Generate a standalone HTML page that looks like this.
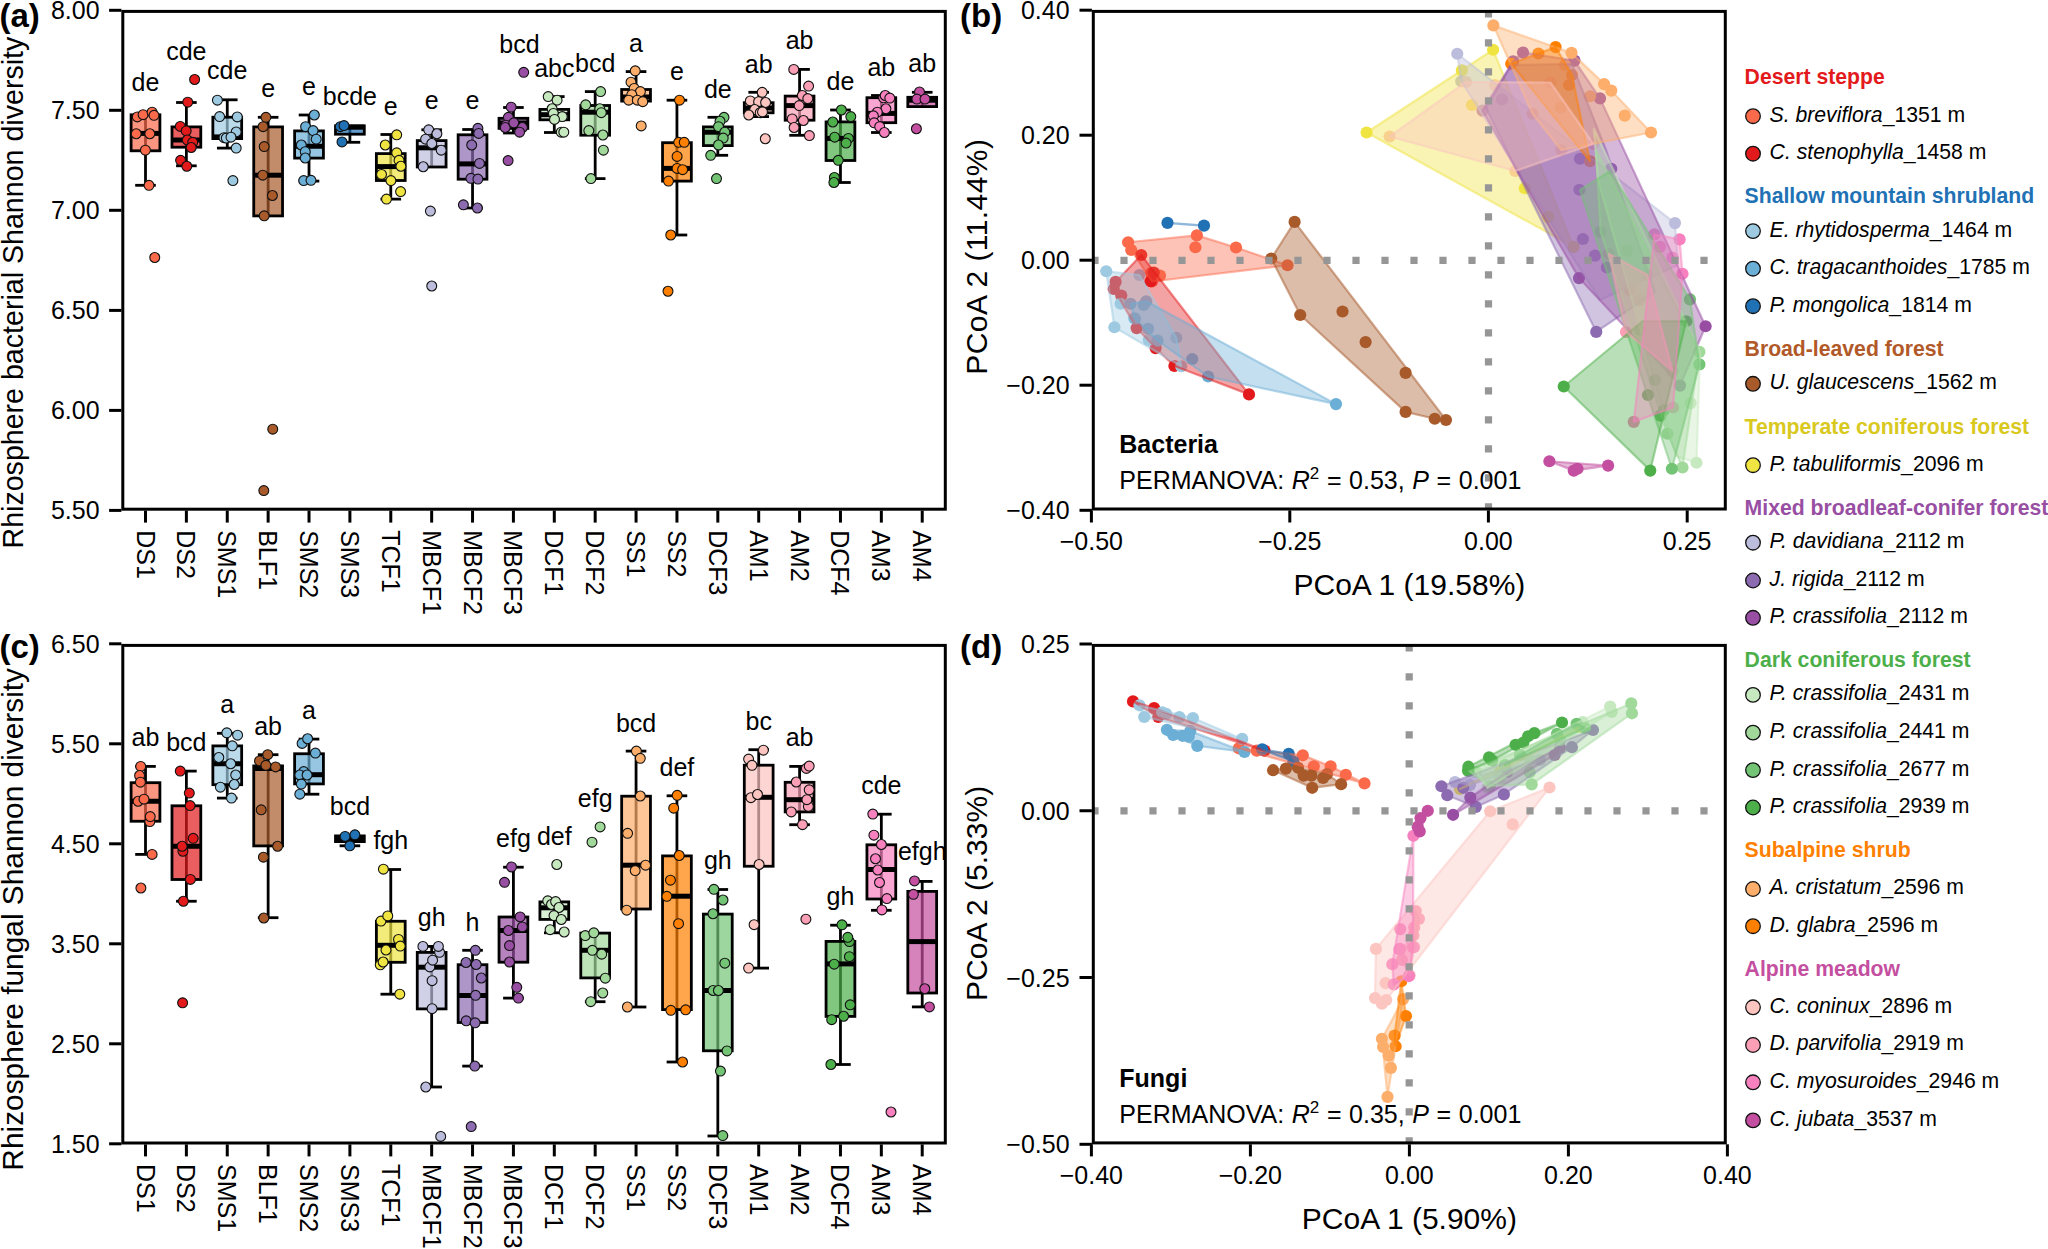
<!DOCTYPE html>
<html lang="en"><head><meta charset="utf-8"><title>Rhizosphere microbial diversity along an elevation gradient</title>
<style>html,body{margin:0;padding:0;background:#fff}body{width:2048px;height:1249px;overflow:hidden}svg{display:block}text{font-family:'Liberation Sans', Arial, Helvetica, sans-serif;fill:#000}</style>
</head><body>
<svg width="2048" height="1249" viewBox="0 0 2048 1249">
<rect width="2048" height="1249" fill="#fff"/>
<path d="M145.5 114.8V185.3" stroke="#000" stroke-width="2.8" fill="none"/>
<path d="M135.2 185.3H155.8" stroke="#000" stroke-width="2.8" fill="none"/>
<rect x="131.1" y="114.8" width="28.8" height="36" fill="#fb6a4a" fill-opacity="0.7" stroke="#000" stroke-width="2.8"/>
<path d="M131.1 133.4H159.9" stroke="#000" stroke-width="5" fill="none"/>
<path d="M186.38 102.5V165.8" stroke="#000" stroke-width="2.8" fill="none"/>
<path d="M176.08 102.5H196.68" stroke="#000" stroke-width="2.8" fill="none"/>
<path d="M176.08 165.8H196.68" stroke="#000" stroke-width="2.8" fill="none"/>
<rect x="171.98" y="126.9" width="28.8" height="20.3" fill="#e31a1c" fill-opacity="0.7" stroke="#000" stroke-width="2.8"/>
<path d="M171.98 140H200.78" stroke="#000" stroke-width="5" fill="none"/>
<path d="M227.26 99.8V148.1" stroke="#000" stroke-width="2.8" fill="none"/>
<path d="M216.96 99.8H237.56" stroke="#000" stroke-width="2.8" fill="none"/>
<path d="M216.96 148.1H237.56" stroke="#000" stroke-width="2.8" fill="none"/>
<rect x="212.86" y="117.2" width="28.8" height="21.4" fill="#9ecae1" fill-opacity="0.7" stroke="#000" stroke-width="2.8"/>
<path d="M212.86 136.9H241.66" stroke="#000" stroke-width="5" fill="none"/>
<path d="M268.14 117.3V215.9" stroke="#000" stroke-width="2.8" fill="none"/>
<path d="M257.84 117.3H278.44" stroke="#000" stroke-width="2.8" fill="none"/>
<rect x="253.74" y="126.9" width="28.8" height="89" fill="#a85a2a" fill-opacity="0.7" stroke="#000" stroke-width="2.8"/>
<path d="M253.74 175.2H282.54" stroke="#000" stroke-width="5" fill="none"/>
<path d="M309.02 115V181.1" stroke="#000" stroke-width="2.8" fill="none"/>
<path d="M298.72 115H319.32" stroke="#000" stroke-width="2.8" fill="none"/>
<path d="M298.72 181.1H319.32" stroke="#000" stroke-width="2.8" fill="none"/>
<rect x="294.62" y="130.9" width="28.8" height="27.2" fill="#6baed6" fill-opacity="0.7" stroke="#000" stroke-width="2.8"/>
<path d="M294.62 146.25H323.42" stroke="#000" stroke-width="5" fill="none"/>
<path d="M349.9 125.8V142.3" stroke="#000" stroke-width="2.8" fill="none"/>
<path d="M339.6 142.3H360.2" stroke="#000" stroke-width="2.8" fill="none"/>
<rect x="335.5" y="125.8" width="28.8" height="8.4" fill="#2171b5" fill-opacity="0.7" stroke="#000" stroke-width="2.8"/>
<path d="M335.5 127.2H364.3" stroke="#000" stroke-width="5" fill="none"/>
<path d="M390.78 134.5V199.1" stroke="#000" stroke-width="2.8" fill="none"/>
<path d="M380.48 134.5H401.08" stroke="#000" stroke-width="2.8" fill="none"/>
<path d="M380.48 199.1H401.08" stroke="#000" stroke-width="2.8" fill="none"/>
<rect x="376.38" y="153.6" width="28.8" height="26.9" fill="#f0e442" fill-opacity="0.7" stroke="#000" stroke-width="2.8"/>
<path d="M376.38 166.6H405.18" stroke="#000" stroke-width="5" fill="none"/>
<path d="M431.66 129.8V167" stroke="#000" stroke-width="2.8" fill="none"/>
<path d="M421.36 129.8H441.96" stroke="#000" stroke-width="2.8" fill="none"/>
<rect x="417.26" y="140.6" width="28.8" height="26.4" fill="#bcbddc" fill-opacity="0.7" stroke="#000" stroke-width="2.8"/>
<path d="M417.26 147.8H446.06" stroke="#000" stroke-width="5" fill="none"/>
<path d="M472.54 129.5V208" stroke="#000" stroke-width="2.8" fill="none"/>
<path d="M462.24 129.5H482.84" stroke="#000" stroke-width="2.8" fill="none"/>
<path d="M462.24 208H482.84" stroke="#000" stroke-width="2.8" fill="none"/>
<rect x="458.14" y="134.8" width="28.8" height="44.4" fill="#8c6bb1" fill-opacity="0.7" stroke="#000" stroke-width="2.8"/>
<path d="M458.14 163.9H486.94" stroke="#000" stroke-width="5" fill="none"/>
<path d="M513.42 107.5V133" stroke="#000" stroke-width="2.8" fill="none"/>
<path d="M503.12 107.5H523.72" stroke="#000" stroke-width="2.8" fill="none"/>
<path d="M503.12 133H523.72" stroke="#000" stroke-width="2.8" fill="none"/>
<rect x="499.02" y="118.3" width="28.8" height="10.1" fill="#984ea3" fill-opacity="0.7" stroke="#000" stroke-width="2.8"/>
<path d="M499.02 123H527.82" stroke="#000" stroke-width="5" fill="none"/>
<path d="M554.3 96.6V132.5" stroke="#000" stroke-width="2.8" fill="none"/>
<path d="M544 96.6H564.6" stroke="#000" stroke-width="2.8" fill="none"/>
<path d="M544 132.5H564.6" stroke="#000" stroke-width="2.8" fill="none"/>
<rect x="539.9" y="109.4" width="28.8" height="10.4" fill="#c7e9c0" fill-opacity="0.7" stroke="#000" stroke-width="2.8"/>
<path d="M539.9 114.7H568.7" stroke="#000" stroke-width="5" fill="none"/>
<path d="M595.18 91.6V178.6" stroke="#000" stroke-width="2.8" fill="none"/>
<path d="M584.88 91.6H605.48" stroke="#000" stroke-width="2.8" fill="none"/>
<path d="M584.88 178.6H605.48" stroke="#000" stroke-width="2.8" fill="none"/>
<rect x="580.78" y="105.5" width="28.8" height="29.7" fill="#a1d99b" fill-opacity="0.7" stroke="#000" stroke-width="2.8"/>
<path d="M580.78 112.2H609.58" stroke="#000" stroke-width="5" fill="none"/>
<path d="M636.06 71.6V101.1" stroke="#000" stroke-width="2.8" fill="none"/>
<path d="M625.76 71.6H646.36" stroke="#000" stroke-width="2.8" fill="none"/>
<rect x="621.66" y="89.5" width="28.8" height="11.6" fill="#fdae6b" fill-opacity="0.7" stroke="#000" stroke-width="2.8"/>
<path d="M621.66 97H650.46" stroke="#000" stroke-width="5" fill="none"/>
<path d="M676.94 100.2V235" stroke="#000" stroke-width="2.8" fill="none"/>
<path d="M666.64 100.2H687.24" stroke="#000" stroke-width="2.8" fill="none"/>
<path d="M666.64 235H687.24" stroke="#000" stroke-width="2.8" fill="none"/>
<rect x="662.54" y="142.7" width="28.8" height="38.4" fill="#ff7f00" fill-opacity="0.7" stroke="#000" stroke-width="2.8"/>
<path d="M662.54 168.4H691.34" stroke="#000" stroke-width="5" fill="none"/>
<path d="M717.82 117.3V155.3" stroke="#000" stroke-width="2.8" fill="none"/>
<path d="M707.52 117.3H728.12" stroke="#000" stroke-width="2.8" fill="none"/>
<path d="M707.52 155.3H728.12" stroke="#000" stroke-width="2.8" fill="none"/>
<rect x="703.42" y="126.9" width="28.8" height="18.7" fill="#74c476" fill-opacity="0.7" stroke="#000" stroke-width="2.8"/>
<path d="M703.42 132.2H732.22" stroke="#000" stroke-width="5" fill="none"/>
<path d="M758.7 92.3V116.6" stroke="#000" stroke-width="2.8" fill="none"/>
<path d="M748.4 92.3H769" stroke="#000" stroke-width="2.8" fill="none"/>
<path d="M748.4 116.6H769" stroke="#000" stroke-width="2.8" fill="none"/>
<rect x="744.3" y="102.7" width="28.8" height="10.1" fill="#fcc5c0" fill-opacity="0.7" stroke="#000" stroke-width="2.8"/>
<path d="M744.3 108H773.1" stroke="#000" stroke-width="5" fill="none"/>
<path d="M799.58 69.4V135.3" stroke="#000" stroke-width="2.8" fill="none"/>
<path d="M789.28 69.4H809.88" stroke="#000" stroke-width="2.8" fill="none"/>
<path d="M789.28 135.3H809.88" stroke="#000" stroke-width="2.8" fill="none"/>
<rect x="785.18" y="96.1" width="28.8" height="24.1" fill="#fa9fb5" fill-opacity="0.7" stroke="#000" stroke-width="2.8"/>
<path d="M785.18 105.6H813.98" stroke="#000" stroke-width="5" fill="none"/>
<path d="M840.46 110V182.5" stroke="#000" stroke-width="2.8" fill="none"/>
<path d="M830.16 110H850.76" stroke="#000" stroke-width="2.8" fill="none"/>
<path d="M830.16 182.5H850.76" stroke="#000" stroke-width="2.8" fill="none"/>
<rect x="826.06" y="121.9" width="28.8" height="38.6" fill="#4daf4a" fill-opacity="0.7" stroke="#000" stroke-width="2.8"/>
<path d="M826.06 138.4H854.86" stroke="#000" stroke-width="5" fill="none"/>
<path d="M881.34 95.5V132.5" stroke="#000" stroke-width="2.8" fill="none"/>
<path d="M871.04 95.5H891.64" stroke="#000" stroke-width="2.8" fill="none"/>
<path d="M871.04 132.5H891.64" stroke="#000" stroke-width="2.8" fill="none"/>
<rect x="866.94" y="97.7" width="28.8" height="25" fill="#f781bf" fill-opacity="0.7" stroke="#000" stroke-width="2.8"/>
<path d="M866.94 113.4H895.74" stroke="#000" stroke-width="5" fill="none"/>
<path d="M922.22 92.3V106.6" stroke="#000" stroke-width="2.8" fill="none"/>
<path d="M911.92 92.3H932.52" stroke="#000" stroke-width="2.8" fill="none"/>
<rect x="907.82" y="97.3" width="28.8" height="9.3" fill="#c44fa0" fill-opacity="0.7" stroke="#000" stroke-width="2.8"/>
<path d="M907.82 100.2H936.62" stroke="#000" stroke-width="5" fill="none"/>
<g fill="#fb6a4a" stroke="#111" stroke-width="1.1">
<circle cx="137.3" cy="116.9" r="4.95"/>
<circle cx="143.1" cy="114.7" r="4.95"/>
<circle cx="152.1" cy="112.2" r="4.95"/>
<circle cx="154" cy="115.3" r="4.95"/>
<circle cx="136.2" cy="133.75" r="4.95"/>
<circle cx="149.8" cy="133.75" r="4.95"/>
<circle cx="145.4" cy="150.2" r="4.95"/>
<circle cx="149" cy="185.3" r="4.95"/>
<circle cx="154.75" cy="257.5" r="4.95"/>
</g>
<g fill="#e31a1c" stroke="#111" stroke-width="1.1">
<circle cx="194.6" cy="79.5" r="4.95"/>
<circle cx="187.75" cy="102.2" r="4.95"/>
<circle cx="180.25" cy="126.4" r="4.95"/>
<circle cx="186.2" cy="130.9" r="4.95"/>
<circle cx="187.3" cy="140" r="4.95"/>
<circle cx="192.75" cy="142.3" r="4.95"/>
<circle cx="191.2" cy="147.5" r="4.95"/>
<circle cx="180.6" cy="160.3" r="4.95"/>
<circle cx="186.8" cy="166.25" r="4.95"/>
</g>
<g fill="#9ecae1" stroke="#111" stroke-width="1.1">
<circle cx="217.4" cy="100.2" r="4.95"/>
<circle cx="219.6" cy="116.6" r="4.95"/>
<circle cx="237.3" cy="116.9" r="4.95"/>
<circle cx="236.2" cy="131.9" r="4.95"/>
<circle cx="224" cy="137.7" r="4.95"/>
<circle cx="226.3" cy="138.1" r="4.95"/>
<circle cx="231" cy="137.2" r="4.95"/>
<circle cx="236.2" cy="148.1" r="4.95"/>
<circle cx="232.9" cy="180.6" r="4.95"/>
</g>
<g fill="#a85a2a" stroke="#111" stroke-width="1.1">
<circle cx="265.9" cy="117.3" r="4.95"/>
<circle cx="263.1" cy="126.7" r="4.95"/>
<circle cx="264.2" cy="146.6" r="4.95"/>
<circle cx="262.75" cy="175.2" r="4.95"/>
<circle cx="272.4" cy="195.5" r="4.95"/>
<circle cx="264.2" cy="215.8" r="4.95"/>
<circle cx="272.75" cy="429.2" r="4.95"/>
<circle cx="263.8" cy="490.6" r="4.95"/>
</g>
<g fill="#6baed6" stroke="#111" stroke-width="1.1">
<circle cx="314.3" cy="115" r="4.95"/>
<circle cx="305.6" cy="126.7" r="4.95"/>
<circle cx="313.1" cy="130.6" r="4.95"/>
<circle cx="316.2" cy="139.2" r="4.95"/>
<circle cx="301.3" cy="145" r="4.95"/>
<circle cx="305.25" cy="151.7" r="4.95"/>
<circle cx="305.25" cy="158" r="4.95"/>
<circle cx="303.7" cy="180.6" r="4.95"/>
<circle cx="311" cy="180.3" r="4.95"/>
</g>
<g fill="#2171b5" stroke="#111" stroke-width="1.1">
<circle cx="340.4" cy="126.7" r="4.95"/>
<circle cx="344" cy="125.6" r="4.95"/>
<circle cx="342" cy="141.9" r="4.95"/>
</g>
<g fill="#f0e442" stroke="#111" stroke-width="1.1">
<circle cx="396.7" cy="134.8" r="4.95"/>
<circle cx="385.25" cy="145" r="4.95"/>
<circle cx="396.7" cy="152.8" r="4.95"/>
<circle cx="399" cy="160.3" r="4.95"/>
<circle cx="400.9" cy="166.25" r="4.95"/>
<circle cx="381.5" cy="174.4" r="4.95"/>
<circle cx="390.9" cy="180.6" r="4.95"/>
<circle cx="400.6" cy="191.6" r="4.95"/>
<circle cx="386.5" cy="199.1" r="4.95"/>
</g>
<g fill="#bcbddc" stroke="#111" stroke-width="1.1">
<circle cx="428.7" cy="129.8" r="4.95"/>
<circle cx="436.9" cy="133.75" r="4.95"/>
<circle cx="425.6" cy="139.2" r="4.95"/>
<circle cx="431.8" cy="143.5" r="4.95"/>
<circle cx="441.2" cy="150.2" r="4.95"/>
<circle cx="423.2" cy="166.75" r="4.95"/>
<circle cx="430.4" cy="211.1" r="4.95"/>
<circle cx="431.75" cy="286" r="4.95"/>
</g>
<g fill="#8c6bb1" stroke="#111" stroke-width="1.1">
<circle cx="477.9" cy="128.3" r="4.95"/>
<circle cx="478.7" cy="133.4" r="4.95"/>
<circle cx="471.7" cy="145" r="4.95"/>
<circle cx="479.5" cy="163.4" r="4.95"/>
<circle cx="470.9" cy="178.3" r="4.95"/>
<circle cx="477.9" cy="179.1" r="4.95"/>
<circle cx="463.4" cy="204.8" r="4.95"/>
<circle cx="477.4" cy="208" r="4.95"/>
</g>
<g fill="#984ea3" stroke="#111" stroke-width="1.1">
<circle cx="523.7" cy="72.3" r="4.95"/>
<circle cx="511.2" cy="107.2" r="4.95"/>
<circle cx="508.4" cy="117.3" r="4.95"/>
<circle cx="506" cy="125.2" r="4.95"/>
<circle cx="505.25" cy="127.5" r="4.95"/>
<circle cx="513.8" cy="122.8" r="4.95"/>
<circle cx="522.4" cy="127.5" r="4.95"/>
<circle cx="519.6" cy="132.2" r="4.95"/>
<circle cx="508.1" cy="160.6" r="4.95"/>
</g>
<g fill="#c7e9c0" stroke="#111" stroke-width="1.1">
<circle cx="548.2" cy="96.6" r="4.95"/>
<circle cx="557.1" cy="100.2" r="4.95"/>
<circle cx="552.1" cy="108.75" r="4.95"/>
<circle cx="553.4" cy="113.4" r="4.95"/>
<circle cx="562.3" cy="116.6" r="4.95"/>
<circle cx="554.5" cy="119.4" r="4.95"/>
<circle cx="561.2" cy="132.2" r="4.95"/>
<circle cx="563.8" cy="132.2" r="4.95"/>
</g>
<g fill="#a1d99b" stroke="#111" stroke-width="1.1">
<circle cx="600.6" cy="91.6" r="4.95"/>
<circle cx="585.7" cy="104.8" r="4.95"/>
<circle cx="599.8" cy="108.75" r="4.95"/>
<circle cx="601.3" cy="112.7" r="4.95"/>
<circle cx="588.8" cy="130.6" r="4.95"/>
<circle cx="602.9" cy="135" r="4.95"/>
<circle cx="603.4" cy="150.2" r="4.95"/>
<circle cx="590.9" cy="178.6" r="4.95"/>
</g>
<g fill="#fdae6b" stroke="#111" stroke-width="1.1">
<circle cx="635.25" cy="70.8" r="4.95"/>
<circle cx="631" cy="82.2" r="4.95"/>
<circle cx="634.2" cy="88.4" r="4.95"/>
<circle cx="640.4" cy="91.6" r="4.95"/>
<circle cx="631.8" cy="94.7" r="4.95"/>
<circle cx="628.7" cy="100.2" r="4.95"/>
<circle cx="637.3" cy="100.2" r="4.95"/>
<circle cx="642.75" cy="101.7" r="4.95"/>
<circle cx="641.2" cy="125.9" r="4.95"/>
</g>
<g fill="#ff7f00" stroke="#111" stroke-width="1.1">
<circle cx="679.5" cy="100.2" r="4.95"/>
<circle cx="678.7" cy="142.3" r="4.95"/>
<circle cx="684.2" cy="142.3" r="4.95"/>
<circle cx="677.1" cy="156.4" r="4.95"/>
<circle cx="677.1" cy="168.4" r="4.95"/>
<circle cx="682.6" cy="169.7" r="4.95"/>
<circle cx="668.5" cy="181.1" r="4.95"/>
<circle cx="670.75" cy="235" r="4.95"/>
<circle cx="668" cy="291.25" r="4.95"/>
</g>
<g fill="#74c476" stroke="#111" stroke-width="1.1">
<circle cx="724" cy="117.3" r="4.95"/>
<circle cx="720" cy="121.25" r="4.95"/>
<circle cx="718.5" cy="126.7" r="4.95"/>
<circle cx="724.8" cy="132.2" r="4.95"/>
<circle cx="723.2" cy="138.1" r="4.95"/>
<circle cx="718.5" cy="145" r="4.95"/>
<circle cx="710.7" cy="155.3" r="4.95"/>
<circle cx="716.5" cy="178.6" r="4.95"/>
</g>
<g fill="#fcc5c0" stroke="#111" stroke-width="1.1">
<circle cx="762.2" cy="92.3" r="4.95"/>
<circle cx="750.3" cy="100.9" r="4.95"/>
<circle cx="758.6" cy="101.7" r="4.95"/>
<circle cx="765.6" cy="102.5" r="4.95"/>
<circle cx="754.7" cy="109.5" r="4.95"/>
<circle cx="760.2" cy="112.7" r="4.95"/>
<circle cx="762.5" cy="111.9" r="4.95"/>
<circle cx="748.75" cy="115" r="4.95"/>
<circle cx="765.3" cy="138.75" r="4.95"/>
</g>
<g fill="#fa9fb5" stroke="#111" stroke-width="1.1">
<circle cx="793.75" cy="69.4" r="4.95"/>
<circle cx="808.6" cy="86.1" r="4.95"/>
<circle cx="802.3" cy="95.5" r="4.95"/>
<circle cx="807.8" cy="98.6" r="4.95"/>
<circle cx="799.2" cy="105.6" r="4.95"/>
<circle cx="792.2" cy="118.9" r="4.95"/>
<circle cx="803.4" cy="120.5" r="4.95"/>
<circle cx="794.1" cy="127.5" r="4.95"/>
<circle cx="809.4" cy="135.6" r="4.95"/>
</g>
<g fill="#4daf4a" stroke="#111" stroke-width="1.1">
<circle cx="841.4" cy="110" r="4.95"/>
<circle cx="850.8" cy="116.6" r="4.95"/>
<circle cx="832.8" cy="122" r="4.95"/>
<circle cx="834.7" cy="137.2" r="4.95"/>
<circle cx="848.4" cy="138.4" r="4.95"/>
<circle cx="846.1" cy="143.1" r="4.95"/>
<circle cx="838.3" cy="160.3" r="4.95"/>
<circle cx="834.4" cy="177.5" r="4.95"/>
<circle cx="833.9" cy="182.5" r="4.95"/>
</g>
<g fill="#f781bf" stroke="#111" stroke-width="1.1">
<circle cx="883.6" cy="97.8" r="4.95"/>
<circle cx="885.2" cy="95.5" r="4.95"/>
<circle cx="889.8" cy="98.1" r="4.95"/>
<circle cx="885.9" cy="108.75" r="4.95"/>
<circle cx="877.3" cy="112.2" r="4.95"/>
<circle cx="873.4" cy="115.8" r="4.95"/>
<circle cx="874.2" cy="122.8" r="4.95"/>
<circle cx="879.7" cy="126.7" r="4.95"/>
<circle cx="884.4" cy="132.5" r="4.95"/>
</g>
<g fill="#c44fa0" stroke="#111" stroke-width="1.1">
<circle cx="919.5" cy="91.9" r="4.95"/>
<circle cx="916.9" cy="99.1" r="4.95"/>
<circle cx="925" cy="99.1" r="4.95"/>
<circle cx="916.4" cy="128.75" r="4.95"/>
</g>
<g font-size="25" text-anchor="middle">
<text x="145.5" y="91.2">de</text>
<text x="186.38" y="59.6">cde</text>
<text x="227.26" y="79.1">cde</text>
<text x="268.14" y="97.35">e</text>
<text x="309.02" y="94.6">e</text>
<text x="349.9" y="105.35">bcde</text>
<text x="390.78" y="114.6">e</text>
<text x="431.66" y="109.1">e</text>
<text x="472.54" y="109.1">e</text>
<text x="519.42" y="52.85">bcd</text>
<text x="554.3" y="76.6">abc</text>
<text x="595.18" y="72.1">bcd</text>
<text x="636.06" y="51.6">a</text>
<text x="676.94" y="80.35">e</text>
<text x="717.82" y="97.85">de</text>
<text x="758.7" y="72.85">ab</text>
<text x="799.58" y="48.6">ab</text>
<text x="840.46" y="89.6">de</text>
<text x="881.34" y="75.85">ab</text>
<text x="922.22" y="71.6">ab</text>
</g>
<rect x="122.8" y="11.4" width="822.5" height="497.8" fill="none" stroke="#000" stroke-width="3.0"/>
<path d="M109.1 10.3H121.4" stroke="#000" stroke-width="3"/>
<text x="99.6" y="19.3" font-size="25" text-anchor="end">8.00</text>
<path d="M109.1 110.3H121.4" stroke="#000" stroke-width="3"/>
<text x="99.6" y="119.3" font-size="25" text-anchor="end">7.50</text>
<path d="M109.1 210.3H121.4" stroke="#000" stroke-width="3"/>
<text x="99.6" y="219.3" font-size="25" text-anchor="end">7.00</text>
<path d="M109.1 310.4H121.4" stroke="#000" stroke-width="3"/>
<text x="99.6" y="319.4" font-size="25" text-anchor="end">6.50</text>
<path d="M109.1 410.4H121.4" stroke="#000" stroke-width="3"/>
<text x="99.6" y="419.4" font-size="25" text-anchor="end">6.00</text>
<path d="M109.1 510.4H121.4" stroke="#000" stroke-width="3"/>
<text x="99.6" y="519.4" font-size="25" text-anchor="end">5.50</text>
<path d="M145.5 510.6V522.6" stroke="#000" stroke-width="3"/>
<text transform="translate(136.5 530.2) rotate(90)" font-size="25">DS1</text>
<path d="M186.38 510.6V522.6" stroke="#000" stroke-width="3"/>
<text transform="translate(177.38 530.2) rotate(90)" font-size="25">DS2</text>
<path d="M227.26 510.6V522.6" stroke="#000" stroke-width="3"/>
<text transform="translate(218.26 530.2) rotate(90)" font-size="25">SMS1</text>
<path d="M268.14 510.6V522.6" stroke="#000" stroke-width="3"/>
<text transform="translate(259.14 530.2) rotate(90)" font-size="25">BLF1</text>
<path d="M309.02 510.6V522.6" stroke="#000" stroke-width="3"/>
<text transform="translate(300.02 530.2) rotate(90)" font-size="25">SMS2</text>
<path d="M349.9 510.6V522.6" stroke="#000" stroke-width="3"/>
<text transform="translate(340.9 530.2) rotate(90)" font-size="25">SMS3</text>
<path d="M390.78 510.6V522.6" stroke="#000" stroke-width="3"/>
<text transform="translate(381.78 530.2) rotate(90)" font-size="25">TCF1</text>
<path d="M431.66 510.6V522.6" stroke="#000" stroke-width="3"/>
<text transform="translate(422.66 530.2) rotate(90)" font-size="25">MBCF1</text>
<path d="M472.54 510.6V522.6" stroke="#000" stroke-width="3"/>
<text transform="translate(463.54 530.2) rotate(90)" font-size="25">MBCF2</text>
<path d="M513.42 510.6V522.6" stroke="#000" stroke-width="3"/>
<text transform="translate(504.42 530.2) rotate(90)" font-size="25">MBCF3</text>
<path d="M554.3 510.6V522.6" stroke="#000" stroke-width="3"/>
<text transform="translate(545.3 530.2) rotate(90)" font-size="25">DCF1</text>
<path d="M595.18 510.6V522.6" stroke="#000" stroke-width="3"/>
<text transform="translate(586.18 530.2) rotate(90)" font-size="25">DCF2</text>
<path d="M636.06 510.6V522.6" stroke="#000" stroke-width="3"/>
<text transform="translate(627.06 530.2) rotate(90)" font-size="25">SS1</text>
<path d="M676.94 510.6V522.6" stroke="#000" stroke-width="3"/>
<text transform="translate(667.94 530.2) rotate(90)" font-size="25">SS2</text>
<path d="M717.82 510.6V522.6" stroke="#000" stroke-width="3"/>
<text transform="translate(708.82 530.2) rotate(90)" font-size="25">DCF3</text>
<path d="M758.7 510.6V522.6" stroke="#000" stroke-width="3"/>
<text transform="translate(749.7 530.2) rotate(90)" font-size="25">AM1</text>
<path d="M799.58 510.6V522.6" stroke="#000" stroke-width="3"/>
<text transform="translate(790.58 530.2) rotate(90)" font-size="25">AM2</text>
<path d="M840.46 510.6V522.6" stroke="#000" stroke-width="3"/>
<text transform="translate(831.46 530.2) rotate(90)" font-size="25">DCF4</text>
<path d="M881.34 510.6V522.6" stroke="#000" stroke-width="3"/>
<text transform="translate(872.34 530.2) rotate(90)" font-size="25">AM3</text>
<path d="M922.22 510.6V522.6" stroke="#000" stroke-width="3"/>
<text transform="translate(913.22 530.2) rotate(90)" font-size="25">AM4</text>
<text transform="translate(23.0 292.6) rotate(-90)" font-size="28.6" text-anchor="middle">Rhizosphere bacterial Shannon diversity</text>
<text x="-0.5" y="27" font-size="33" font-weight="bold">(a)</text>
<path d="M145.5 766.4V854.4" stroke="#000" stroke-width="2.8" fill="none"/>
<path d="M135.2 766.4H155.8" stroke="#000" stroke-width="2.8" fill="none"/>
<path d="M135.2 854.4H155.8" stroke="#000" stroke-width="2.8" fill="none"/>
<rect x="131.1" y="782.7" width="28.8" height="38.55" fill="#fb6a4a" fill-opacity="0.7" stroke="#000" stroke-width="2.8"/>
<path d="M131.1 801.25H159.9" stroke="#000" stroke-width="5" fill="none"/>
<path d="M186.38 771.1V901.25" stroke="#000" stroke-width="2.8" fill="none"/>
<path d="M176.08 771.1H196.68" stroke="#000" stroke-width="2.8" fill="none"/>
<path d="M176.08 901.25H196.68" stroke="#000" stroke-width="2.8" fill="none"/>
<rect x="171.98" y="805.8" width="28.8" height="73.7" fill="#e31a1c" fill-opacity="0.7" stroke="#000" stroke-width="2.8"/>
<path d="M171.98 846.25H200.78" stroke="#000" stroke-width="5" fill="none"/>
<path d="M227.26 733.3V798.1" stroke="#000" stroke-width="2.8" fill="none"/>
<path d="M216.96 733.3H237.56" stroke="#000" stroke-width="2.8" fill="none"/>
<path d="M216.96 798.1H237.56" stroke="#000" stroke-width="2.8" fill="none"/>
<rect x="212.86" y="745.9" width="28.8" height="38.8" fill="#9ecae1" fill-opacity="0.7" stroke="#000" stroke-width="2.8"/>
<path d="M212.86 763.75H241.66" stroke="#000" stroke-width="5" fill="none"/>
<path d="M268.14 754.7V917.7" stroke="#000" stroke-width="2.8" fill="none"/>
<path d="M257.84 754.7H278.44" stroke="#000" stroke-width="2.8" fill="none"/>
<path d="M257.84 917.7H278.44" stroke="#000" stroke-width="2.8" fill="none"/>
<rect x="253.74" y="765.9" width="28.8" height="80" fill="#a85a2a" fill-opacity="0.7" stroke="#000" stroke-width="2.8"/>
<path d="M253.74 768.5H282.54" stroke="#000" stroke-width="5" fill="none"/>
<path d="M309.02 739.1V794.2" stroke="#000" stroke-width="2.8" fill="none"/>
<path d="M298.72 739.1H319.32" stroke="#000" stroke-width="2.8" fill="none"/>
<path d="M298.72 794.2H319.32" stroke="#000" stroke-width="2.8" fill="none"/>
<rect x="294.62" y="753.75" width="28.8" height="30.15" fill="#6baed6" fill-opacity="0.7" stroke="#000" stroke-width="2.8"/>
<path d="M294.62 774.7H323.42" stroke="#000" stroke-width="5" fill="none"/>
<path d="M349.9 835.9V845.8" stroke="#000" stroke-width="2.8" fill="none"/>
<path d="M339.6 845.8H360.2" stroke="#000" stroke-width="2.8" fill="none"/>
<rect x="335.5" y="835.9" width="28.8" height="5.7" fill="#2171b5" fill-opacity="0.7" stroke="#000" stroke-width="2.8"/>
<path d="M335.5 838.7H364.3" stroke="#000" stroke-width="5" fill="none"/>
<path d="M390.78 869.5V994.2" stroke="#000" stroke-width="2.8" fill="none"/>
<path d="M380.48 869.5H401.08" stroke="#000" stroke-width="2.8" fill="none"/>
<path d="M380.48 994.2H401.08" stroke="#000" stroke-width="2.8" fill="none"/>
<rect x="376.38" y="921.25" width="28.8" height="41.05" fill="#f0e442" fill-opacity="0.7" stroke="#000" stroke-width="2.8"/>
<path d="M376.38 945.3H405.18" stroke="#000" stroke-width="5" fill="none"/>
<path d="M431.66 946.4V1087" stroke="#000" stroke-width="2.8" fill="none"/>
<path d="M421.36 946.4H441.96" stroke="#000" stroke-width="2.8" fill="none"/>
<path d="M421.36 1087H441.96" stroke="#000" stroke-width="2.8" fill="none"/>
<rect x="417.26" y="952.4" width="28.8" height="56.5" fill="#bcbddc" fill-opacity="0.7" stroke="#000" stroke-width="2.8"/>
<path d="M417.26 967.2H446.06" stroke="#000" stroke-width="5" fill="none"/>
<path d="M472.54 950.3V1066.1" stroke="#000" stroke-width="2.8" fill="none"/>
<path d="M462.24 950.3H482.84" stroke="#000" stroke-width="2.8" fill="none"/>
<path d="M462.24 1066.1H482.84" stroke="#000" stroke-width="2.8" fill="none"/>
<rect x="458.14" y="964.7" width="28.8" height="57.8" fill="#8c6bb1" fill-opacity="0.7" stroke="#000" stroke-width="2.8"/>
<path d="M458.14 995.5H486.94" stroke="#000" stroke-width="5" fill="none"/>
<path d="M513.42 867.2V998.1" stroke="#000" stroke-width="2.8" fill="none"/>
<path d="M503.12 867.2H523.72" stroke="#000" stroke-width="2.8" fill="none"/>
<path d="M503.12 998.1H523.72" stroke="#000" stroke-width="2.8" fill="none"/>
<rect x="499.02" y="917" width="28.8" height="45.2" fill="#984ea3" fill-opacity="0.7" stroke="#000" stroke-width="2.8"/>
<path d="M499.02 930.5H527.82" stroke="#000" stroke-width="5" fill="none"/>
<path d="M554.3 901.9V932.8" stroke="#000" stroke-width="2.8" fill="none"/>
<path d="M544 932.8H564.6" stroke="#000" stroke-width="2.8" fill="none"/>
<rect x="539.9" y="901.9" width="28.8" height="17.5" fill="#c7e9c0" fill-opacity="0.7" stroke="#000" stroke-width="2.8"/>
<path d="M539.9 907.8H568.7" stroke="#000" stroke-width="5" fill="none"/>
<path d="M595.18 933.1V1001.7" stroke="#000" stroke-width="2.8" fill="none"/>
<path d="M584.88 1001.7H605.48" stroke="#000" stroke-width="2.8" fill="none"/>
<rect x="580.78" y="933.1" width="28.8" height="44.8" fill="#a1d99b" fill-opacity="0.7" stroke="#000" stroke-width="2.8"/>
<path d="M580.78 950.3H609.58" stroke="#000" stroke-width="5" fill="none"/>
<path d="M636.06 751.1V1007" stroke="#000" stroke-width="2.8" fill="none"/>
<path d="M625.76 751.1H646.36" stroke="#000" stroke-width="2.8" fill="none"/>
<path d="M625.76 1007H646.36" stroke="#000" stroke-width="2.8" fill="none"/>
<rect x="621.66" y="796.2" width="28.8" height="112.8" fill="#fdae6b" fill-opacity="0.7" stroke="#000" stroke-width="2.8"/>
<path d="M621.66 865.2H650.46" stroke="#000" stroke-width="5" fill="none"/>
<path d="M676.94 795.8V1062" stroke="#000" stroke-width="2.8" fill="none"/>
<path d="M666.64 795.8H687.24" stroke="#000" stroke-width="2.8" fill="none"/>
<path d="M666.64 1062H687.24" stroke="#000" stroke-width="2.8" fill="none"/>
<rect x="662.54" y="855.9" width="28.8" height="153.7" fill="#ff7f00" fill-opacity="0.7" stroke="#000" stroke-width="2.8"/>
<path d="M662.54 896.2H691.34" stroke="#000" stroke-width="5" fill="none"/>
<path d="M717.82 889.5V1136" stroke="#000" stroke-width="2.8" fill="none"/>
<path d="M707.52 889.5H728.12" stroke="#000" stroke-width="2.8" fill="none"/>
<path d="M707.52 1136H728.12" stroke="#000" stroke-width="2.8" fill="none"/>
<rect x="703.42" y="914.1" width="28.8" height="136.7" fill="#74c476" fill-opacity="0.7" stroke="#000" stroke-width="2.8"/>
<path d="M703.42 990.5H732.22" stroke="#000" stroke-width="5" fill="none"/>
<path d="M758.7 749.7V968.1" stroke="#000" stroke-width="2.8" fill="none"/>
<path d="M748.4 749.7H769" stroke="#000" stroke-width="2.8" fill="none"/>
<path d="M748.4 968.1H769" stroke="#000" stroke-width="2.8" fill="none"/>
<rect x="744.3" y="765.2" width="28.8" height="101.05" fill="#fcc5c0" fill-opacity="0.7" stroke="#000" stroke-width="2.8"/>
<path d="M744.3 797.3H773.1" stroke="#000" stroke-width="5" fill="none"/>
<path d="M799.58 766.4V824.7" stroke="#000" stroke-width="2.8" fill="none"/>
<path d="M789.28 766.4H809.88" stroke="#000" stroke-width="2.8" fill="none"/>
<path d="M789.28 824.7H809.88" stroke="#000" stroke-width="2.8" fill="none"/>
<rect x="785.18" y="782.3" width="28.8" height="29.6" fill="#fa9fb5" fill-opacity="0.7" stroke="#000" stroke-width="2.8"/>
<path d="M785.18 799.7H813.98" stroke="#000" stroke-width="5" fill="none"/>
<path d="M840.46 925.2V1064.5" stroke="#000" stroke-width="2.8" fill="none"/>
<path d="M830.16 925.2H850.76" stroke="#000" stroke-width="2.8" fill="none"/>
<path d="M830.16 1064.5H850.76" stroke="#000" stroke-width="2.8" fill="none"/>
<rect x="826.06" y="941.4" width="28.8" height="75" fill="#4daf4a" fill-opacity="0.7" stroke="#000" stroke-width="2.8"/>
<path d="M826.06 963.9H854.86" stroke="#000" stroke-width="5" fill="none"/>
<path d="M881.34 814.2V910.3" stroke="#000" stroke-width="2.8" fill="none"/>
<path d="M871.04 814.2H891.64" stroke="#000" stroke-width="2.8" fill="none"/>
<path d="M871.04 910.3H891.64" stroke="#000" stroke-width="2.8" fill="none"/>
<rect x="866.94" y="844.8" width="28.8" height="54.2" fill="#f781bf" fill-opacity="0.7" stroke="#000" stroke-width="2.8"/>
<path d="M866.94 869.5H895.74" stroke="#000" stroke-width="5" fill="none"/>
<path d="M922.22 881.4V1006.9" stroke="#000" stroke-width="2.8" fill="none"/>
<path d="M911.92 881.4H932.52" stroke="#000" stroke-width="2.8" fill="none"/>
<path d="M911.92 1006.9H932.52" stroke="#000" stroke-width="2.8" fill="none"/>
<rect x="907.82" y="891.4" width="28.8" height="101.6" fill="#c44fa0" fill-opacity="0.7" stroke="#000" stroke-width="2.8"/>
<path d="M907.82 941.6H936.62" stroke="#000" stroke-width="5" fill="none"/>
<g fill="#fb6a4a" stroke="#111" stroke-width="1.1">
<circle cx="140.7" cy="766.4" r="4.95"/>
<circle cx="139.6" cy="775.5" r="4.95"/>
<circle cx="140.4" cy="782.2" r="4.95"/>
<circle cx="138.1" cy="801.25" r="4.95"/>
<circle cx="144" cy="799.2" r="4.95"/>
<circle cx="149.8" cy="821.6" r="4.95"/>
<circle cx="150.25" cy="816.6" r="4.95"/>
<circle cx="152.1" cy="854.4" r="4.95"/>
<circle cx="140.9" cy="888" r="4.95"/>
</g>
<g fill="#e31a1c" stroke="#111" stroke-width="1.1">
<circle cx="180.25" cy="771.1" r="4.95"/>
<circle cx="189.3" cy="793.1" r="4.95"/>
<circle cx="190.1" cy="805.6" r="4.95"/>
<circle cx="193.2" cy="838.3" r="4.95"/>
<circle cx="182.9" cy="851.25" r="4.95"/>
<circle cx="182.1" cy="846.25" r="4.95"/>
<circle cx="190.4" cy="879.4" r="4.95"/>
<circle cx="183.4" cy="901.25" r="4.95"/>
<circle cx="182.6" cy="1002.8" r="4.95"/>
</g>
<g fill="#9ecae1" stroke="#111" stroke-width="1.1">
<circle cx="226.8" cy="732.8" r="4.95"/>
<circle cx="237.6" cy="735.2" r="4.95"/>
<circle cx="232.3" cy="745.8" r="4.95"/>
<circle cx="218.8" cy="757.5" r="4.95"/>
<circle cx="230.7" cy="763.75" r="4.95"/>
<circle cx="235.7" cy="775" r="4.95"/>
<circle cx="234.2" cy="784.5" r="4.95"/>
<circle cx="220.4" cy="787.2" r="4.95"/>
<circle cx="231.5" cy="798.1" r="4.95"/>
</g>
<g fill="#a85a2a" stroke="#111" stroke-width="1.1">
<circle cx="267.75" cy="754.7" r="4.95"/>
<circle cx="259.5" cy="760.9" r="4.95"/>
<circle cx="265.9" cy="765.3" r="4.95"/>
<circle cx="275.6" cy="766.9" r="4.95"/>
<circle cx="261.2" cy="809.8" r="4.95"/>
<circle cx="277.6" cy="846.25" r="4.95"/>
<circle cx="263.4" cy="857.2" r="4.95"/>
<circle cx="263.8" cy="918" r="4.95"/>
</g>
<g fill="#6baed6" stroke="#111" stroke-width="1.1">
<circle cx="302.1" cy="743.4" r="4.95"/>
<circle cx="307.6" cy="738.75" r="4.95"/>
<circle cx="315.4" cy="753.1" r="4.95"/>
<circle cx="303.7" cy="771.6" r="4.95"/>
<circle cx="299.8" cy="775" r="4.95"/>
<circle cx="307.1" cy="775" r="4.95"/>
<circle cx="301.3" cy="784.1" r="4.95"/>
<circle cx="299.8" cy="794.2" r="4.95"/>
</g>
<g fill="#2171b5" stroke="#111" stroke-width="1.1">
<circle cx="345.1" cy="836.4" r="4.95"/>
<circle cx="354.9" cy="834.8" r="4.95"/>
<circle cx="349.8" cy="845.8" r="4.95"/>
</g>
<g fill="#f0e442" stroke="#111" stroke-width="1.1">
<circle cx="383.4" cy="869.2" r="4.95"/>
<circle cx="381" cy="921.1" r="4.95"/>
<circle cx="387.75" cy="915.9" r="4.95"/>
<circle cx="398.5" cy="939.4" r="4.95"/>
<circle cx="400.25" cy="946.1" r="4.95"/>
<circle cx="386" cy="950" r="4.95"/>
<circle cx="380.25" cy="964.8" r="4.95"/>
<circle cx="383.1" cy="962" r="4.95"/>
<circle cx="399.8" cy="994.2" r="4.95"/>
</g>
<g fill="#bcbddc" stroke="#111" stroke-width="1.1">
<circle cx="422.9" cy="946.4" r="4.95"/>
<circle cx="439.6" cy="952.3" r="4.95"/>
<circle cx="438.4" cy="946.4" r="4.95"/>
<circle cx="429.8" cy="966.9" r="4.95"/>
<circle cx="432.6" cy="960.2" r="4.95"/>
<circle cx="432.1" cy="980.7" r="4.95"/>
<circle cx="432.1" cy="1008.7" r="4.95"/>
<circle cx="425.8" cy="1087" r="4.95"/>
<circle cx="440.7" cy="1136.4" r="4.95"/>
</g>
<g fill="#8c6bb1" stroke="#111" stroke-width="1.1">
<circle cx="475.4" cy="950.3" r="4.95"/>
<circle cx="466" cy="962.5" r="4.95"/>
<circle cx="476.2" cy="964.5" r="4.95"/>
<circle cx="481.3" cy="978" r="4.95"/>
<circle cx="475.6" cy="995.3" r="4.95"/>
<circle cx="466.2" cy="1020.8" r="4.95"/>
<circle cx="475.1" cy="1022.8" r="4.95"/>
<circle cx="474.8" cy="1066.1" r="4.95"/>
<circle cx="471.2" cy="1126.6" r="4.95"/>
</g>
<g fill="#984ea3" stroke="#111" stroke-width="1.1">
<circle cx="511.5" cy="866.9" r="4.95"/>
<circle cx="504.5" cy="882.3" r="4.95"/>
<circle cx="520.1" cy="916.9" r="4.95"/>
<circle cx="522.3" cy="926.9" r="4.95"/>
<circle cx="508.4" cy="930.5" r="4.95"/>
<circle cx="509.5" cy="945.6" r="4.95"/>
<circle cx="509.5" cy="962" r="4.95"/>
<circle cx="516.8" cy="987.3" r="4.95"/>
<circle cx="518.4" cy="998.1" r="4.95"/>
</g>
<g fill="#c7e9c0" stroke="#111" stroke-width="1.1">
<circle cx="547.75" cy="900.8" r="4.95"/>
<circle cx="551.5" cy="904.5" r="4.95"/>
<circle cx="555.6" cy="901.6" r="4.95"/>
<circle cx="559" cy="907.5" r="4.95"/>
<circle cx="554" cy="915.6" r="4.95"/>
<circle cx="561.3" cy="919.5" r="4.95"/>
<circle cx="550.1" cy="929.7" r="4.95"/>
<circle cx="564.2" cy="932" r="4.95"/>
<circle cx="556.8" cy="864.5" r="4.95"/>
</g>
<g fill="#a1d99b" stroke="#111" stroke-width="1.1">
<circle cx="585.25" cy="935.6" r="4.95"/>
<circle cx="593.8" cy="932.8" r="4.95"/>
<circle cx="592.3" cy="950.3" r="4.95"/>
<circle cx="601.7" cy="954.2" r="4.95"/>
<circle cx="605.3" cy="978.2" r="4.95"/>
<circle cx="602.75" cy="993" r="4.95"/>
<circle cx="590.7" cy="1001.7" r="4.95"/>
<circle cx="600.1" cy="826.9" r="4.95"/>
<circle cx="592" cy="842.2" r="4.95"/>
</g>
<g fill="#fdae6b" stroke="#111" stroke-width="1.1">
<circle cx="636.4" cy="751.1" r="4.95"/>
<circle cx="640.3" cy="758.3" r="4.95"/>
<circle cx="640.3" cy="796" r="4.95"/>
<circle cx="627.6" cy="833.3" r="4.95"/>
<circle cx="645.6" cy="865.2" r="4.95"/>
<circle cx="635.2" cy="870.6" r="4.95"/>
<circle cx="626.7" cy="910.2" r="4.95"/>
<circle cx="627.4" cy="1007" r="4.95"/>
</g>
<g fill="#ff7f00" stroke="#111" stroke-width="1.1">
<circle cx="677.2" cy="795.3" r="4.95"/>
<circle cx="673.7" cy="808.2" r="4.95"/>
<circle cx="679.2" cy="855.5" r="4.95"/>
<circle cx="670.45" cy="880.2" r="4.95"/>
<circle cx="666.85" cy="896.3" r="4.95"/>
<circle cx="678.55" cy="923.7" r="4.95"/>
<circle cx="670.85" cy="1010.3" r="4.95"/>
<circle cx="685.65" cy="1009.8" r="4.95"/>
<circle cx="682.55" cy="1062" r="4.95"/>
</g>
<g fill="#74c476" stroke="#111" stroke-width="1.1">
<circle cx="713.9" cy="889.3" r="4.95"/>
<circle cx="723" cy="900" r="4.95"/>
<circle cx="713" cy="913.75" r="4.95"/>
<circle cx="724.8" cy="963.2" r="4.95"/>
<circle cx="713.1" cy="990.5" r="4.95"/>
<circle cx="718.4" cy="990.5" r="4.95"/>
<circle cx="727" cy="1050.9" r="4.95"/>
<circle cx="720.45" cy="1071.1" r="4.95"/>
<circle cx="722.75" cy="1135.6" r="4.95"/>
</g>
<g fill="#fcc5c0" stroke="#111" stroke-width="1.1">
<circle cx="763.4" cy="750.2" r="4.95"/>
<circle cx="748.6" cy="759.1" r="4.95"/>
<circle cx="752" cy="765.3" r="4.95"/>
<circle cx="750.9" cy="797.7" r="4.95"/>
<circle cx="757.5" cy="794.5" r="4.95"/>
<circle cx="759.1" cy="864.5" r="4.95"/>
<circle cx="754.1" cy="924.7" r="4.95"/>
<circle cx="748.6" cy="968.1" r="4.95"/>
</g>
<g fill="#fa9fb5" stroke="#111" stroke-width="1.1">
<circle cx="806.4" cy="768.4" r="4.95"/>
<circle cx="809.2" cy="766.1" r="4.95"/>
<circle cx="796.25" cy="782" r="4.95"/>
<circle cx="809.2" cy="789.8" r="4.95"/>
<circle cx="808.4" cy="806.4" r="4.95"/>
<circle cx="806.9" cy="799.7" r="4.95"/>
<circle cx="791.25" cy="811.9" r="4.95"/>
<circle cx="802.5" cy="824.7" r="4.95"/>
<circle cx="805.9" cy="919.2" r="4.95"/>
</g>
<g fill="#4daf4a" stroke="#111" stroke-width="1.1">
<circle cx="842" cy="924.8" r="4.95"/>
<circle cx="849.4" cy="941.6" r="4.95"/>
<circle cx="847.8" cy="937.3" r="4.95"/>
<circle cx="849.4" cy="956.7" r="4.95"/>
<circle cx="834.2" cy="964.2" r="4.95"/>
<circle cx="850.2" cy="1004.8" r="4.95"/>
<circle cx="831.7" cy="1019.7" r="4.95"/>
<circle cx="843.6" cy="1016.25" r="4.95"/>
<circle cx="830.9" cy="1064.5" r="4.95"/>
</g>
<g fill="#f781bf" stroke="#111" stroke-width="1.1">
<circle cx="872.8" cy="814.1" r="4.95"/>
<circle cx="873.9" cy="835.2" r="4.95"/>
<circle cx="881.4" cy="844.5" r="4.95"/>
<circle cx="875.5" cy="858.75" r="4.95"/>
<circle cx="877.8" cy="870" r="4.95"/>
<circle cx="879.5" cy="882.5" r="4.95"/>
<circle cx="886.9" cy="898.6" r="4.95"/>
<circle cx="881.9" cy="909.9" r="4.95"/>
<circle cx="891" cy="1112" r="4.95"/>
</g>
<g fill="#c44fa0" stroke="#111" stroke-width="1.1">
<circle cx="914.5" cy="880.9" r="4.95"/>
<circle cx="913.4" cy="894.3" r="4.95"/>
<circle cx="924.8" cy="988.75" r="4.95"/>
<circle cx="929.4" cy="1006.9" r="4.95"/>
</g>
<g font-size="25" text-anchor="middle">
<text x="145.5" y="746.2">ab</text>
<text x="186.38" y="751.2">bcd</text>
<text x="227.26" y="713.3">a</text>
<text x="268.14" y="734.8">ab</text>
<text x="309.02" y="718.5">a</text>
<text x="349.9" y="815.3">bcd</text>
<text x="390.78" y="848.9">fgh</text>
<text x="431.66" y="926.4">gh</text>
<text x="472.54" y="931">h</text>
<text x="513.42" y="846.9">efg</text>
<text x="554.3" y="845">def</text>
<text x="595.18" y="807.05">efg</text>
<text x="636.06" y="732.4">bcd</text>
<text x="676.94" y="776.3">def</text>
<text x="717.82" y="868.6">gh</text>
<text x="758.7" y="730.2">bc</text>
<text x="799.58" y="745.8">ab</text>
<text x="840.46" y="905.2">gh</text>
<text x="881.34" y="793.9">cde</text>
<text x="922.22" y="860.3">efgh</text>
</g>
<rect x="122.8" y="645.4" width="822.5" height="497.6" fill="none" stroke="#000" stroke-width="3.0"/>
<path d="M109.1 643.8H121.4" stroke="#000" stroke-width="3"/>
<text x="99.6" y="652.8" font-size="25" text-anchor="end">6.50</text>
<path d="M109.1 743.8H121.4" stroke="#000" stroke-width="3"/>
<text x="99.6" y="752.8" font-size="25" text-anchor="end">5.50</text>
<path d="M109.1 843.8H121.4" stroke="#000" stroke-width="3"/>
<text x="99.6" y="852.8" font-size="25" text-anchor="end">4.50</text>
<path d="M109.1 943.8H121.4" stroke="#000" stroke-width="3"/>
<text x="99.6" y="952.8" font-size="25" text-anchor="end">3.50</text>
<path d="M109.1 1043.8H121.4" stroke="#000" stroke-width="3"/>
<text x="99.6" y="1052.8" font-size="25" text-anchor="end">2.50</text>
<path d="M109.1 1143.8H121.4" stroke="#000" stroke-width="3"/>
<text x="99.6" y="1152.8" font-size="25" text-anchor="end">1.50</text>
<path d="M145.5 1144.4V1156.4" stroke="#000" stroke-width="3"/>
<text transform="translate(136.5 1164) rotate(90)" font-size="25">DS1</text>
<path d="M186.38 1144.4V1156.4" stroke="#000" stroke-width="3"/>
<text transform="translate(177.38 1164) rotate(90)" font-size="25">DS2</text>
<path d="M227.26 1144.4V1156.4" stroke="#000" stroke-width="3"/>
<text transform="translate(218.26 1164) rotate(90)" font-size="25">SMS1</text>
<path d="M268.14 1144.4V1156.4" stroke="#000" stroke-width="3"/>
<text transform="translate(259.14 1164) rotate(90)" font-size="25">BLF1</text>
<path d="M309.02 1144.4V1156.4" stroke="#000" stroke-width="3"/>
<text transform="translate(300.02 1164) rotate(90)" font-size="25">SMS2</text>
<path d="M349.9 1144.4V1156.4" stroke="#000" stroke-width="3"/>
<text transform="translate(340.9 1164) rotate(90)" font-size="25">SMS3</text>
<path d="M390.78 1144.4V1156.4" stroke="#000" stroke-width="3"/>
<text transform="translate(381.78 1164) rotate(90)" font-size="25">TCF1</text>
<path d="M431.66 1144.4V1156.4" stroke="#000" stroke-width="3"/>
<text transform="translate(422.66 1164) rotate(90)" font-size="25">MBCF1</text>
<path d="M472.54 1144.4V1156.4" stroke="#000" stroke-width="3"/>
<text transform="translate(463.54 1164) rotate(90)" font-size="25">MBCF2</text>
<path d="M513.42 1144.4V1156.4" stroke="#000" stroke-width="3"/>
<text transform="translate(504.42 1164) rotate(90)" font-size="25">MBCF3</text>
<path d="M554.3 1144.4V1156.4" stroke="#000" stroke-width="3"/>
<text transform="translate(545.3 1164) rotate(90)" font-size="25">DCF1</text>
<path d="M595.18 1144.4V1156.4" stroke="#000" stroke-width="3"/>
<text transform="translate(586.18 1164) rotate(90)" font-size="25">DCF2</text>
<path d="M636.06 1144.4V1156.4" stroke="#000" stroke-width="3"/>
<text transform="translate(627.06 1164) rotate(90)" font-size="25">SS1</text>
<path d="M676.94 1144.4V1156.4" stroke="#000" stroke-width="3"/>
<text transform="translate(667.94 1164) rotate(90)" font-size="25">SS2</text>
<path d="M717.82 1144.4V1156.4" stroke="#000" stroke-width="3"/>
<text transform="translate(708.82 1164) rotate(90)" font-size="25">DCF3</text>
<path d="M758.7 1144.4V1156.4" stroke="#000" stroke-width="3"/>
<text transform="translate(749.7 1164) rotate(90)" font-size="25">AM1</text>
<path d="M799.58 1144.4V1156.4" stroke="#000" stroke-width="3"/>
<text transform="translate(790.58 1164) rotate(90)" font-size="25">AM2</text>
<path d="M840.46 1144.4V1156.4" stroke="#000" stroke-width="3"/>
<text transform="translate(831.46 1164) rotate(90)" font-size="25">DCF4</text>
<path d="M881.34 1144.4V1156.4" stroke="#000" stroke-width="3"/>
<text transform="translate(872.34 1164) rotate(90)" font-size="25">AM3</text>
<path d="M922.22 1144.4V1156.4" stroke="#000" stroke-width="3"/>
<text transform="translate(913.22 1164) rotate(90)" font-size="25">AM4</text>
<text transform="translate(23.0 919.3) rotate(-90)" font-size="29.85" text-anchor="middle">Rhizosphere fungal Shannon diversity</text>
<text x="-0.5" y="657.6" font-size="33" font-weight="bold">(c)</text>
<clipPath id="cb"><rect x="1093.3" y="11.4" width="632" height="497.6"/></clipPath>
<g clip-path="url(#cb)">
<g fill="#fb6a4a">
<circle cx="1128.1" cy="242.25" r="6.1"/>
<circle cx="1131.25" cy="250" r="6.1"/>
<circle cx="1196.9" cy="235.4" r="6.1"/>
<circle cx="1195.4" cy="247.25" r="6.1"/>
<circle cx="1236" cy="247.5" r="6.1"/>
<circle cx="1287.5" cy="265.25" r="6.1"/>
<circle cx="1160" cy="275.6" r="6.1"/>
<circle cx="1151.25" cy="273.1" r="6.1"/>
<circle cx="1152" cy="281.5" r="6.1"/>
</g>
<g fill="#e31a1c">
<circle cx="1141.25" cy="255" r="6.1"/>
<circle cx="1150.6" cy="281.25" r="6.1"/>
<circle cx="1153.75" cy="272.5" r="6.1"/>
<circle cx="1115.6" cy="281.9" r="6.1"/>
<circle cx="1113.75" cy="289" r="6.1"/>
<circle cx="1121.25" cy="295.6" r="6.1"/>
<circle cx="1136.6" cy="328.1" r="6.1"/>
<circle cx="1155.6" cy="348.1" r="6.1"/>
<circle cx="1174.4" cy="366" r="6.1"/>
<circle cx="1249" cy="394.4" r="6.1"/>
</g>
<g fill="#9ecae1">
<circle cx="1106.25" cy="271.25" r="6.1"/>
<circle cx="1139.4" cy="275" r="6.1"/>
<circle cx="1114.4" cy="327.25" r="6.1"/>
<circle cx="1120.6" cy="303.75" r="6.1"/>
<circle cx="1181.25" cy="366.25" r="6.1"/>
<circle cx="1148.75" cy="340" r="6.1"/>
<circle cx="1176.25" cy="337.75" r="6.1"/>
<circle cx="1134" cy="318" r="6.1"/>
</g>
<g fill="#6baed6">
<circle cx="1336" cy="404.1" r="6.1"/>
<circle cx="1208.1" cy="376.5" r="6.1"/>
<circle cx="1192.25" cy="359" r="6.1"/>
<circle cx="1157.5" cy="340.6" r="6.1"/>
<circle cx="1148.1" cy="328.75" r="6.1"/>
<circle cx="1135" cy="318.75" r="6.1"/>
<circle cx="1143.75" cy="305" r="6.1"/>
<circle cx="1130.6" cy="303.75" r="6.1"/>
<circle cx="1146.25" cy="301.25" r="6.1"/>
</g>
<g fill="#2171b5">
<circle cx="1167.5" cy="222.9" r="6.1"/>
<circle cx="1204" cy="225.6" r="6.1"/>
</g>
<g fill="#a85a2a">
<circle cx="1294.6" cy="221.9" r="6.1"/>
<circle cx="1271.25" cy="258.5" r="6.1"/>
<circle cx="1300.25" cy="315" r="6.1"/>
<circle cx="1342.5" cy="311.5" r="6.1"/>
<circle cx="1365.6" cy="342.1" r="6.1"/>
<circle cx="1405.6" cy="372.9" r="6.1"/>
<circle cx="1405.6" cy="411.9" r="6.1"/>
<circle cx="1434.75" cy="418.75" r="6.1"/>
<circle cx="1446" cy="420" r="6.1"/>
</g>
<g fill="#f0e442">
<circle cx="1366.6" cy="132.5" r="6.1"/>
<circle cx="1493.1" cy="49.75" r="6.1"/>
<circle cx="1461.9" cy="70.4" r="6.1"/>
<circle cx="1471.9" cy="105" r="6.1"/>
<circle cx="1524.8" cy="188.2" r="6.1"/>
<circle cx="1548.1" cy="216.9" r="6.1"/>
<circle cx="1573.5" cy="246.9" r="6.1"/>
</g>
<g fill="#bcbddc">
<circle cx="1457.25" cy="53.75" r="6.1"/>
<circle cx="1461.25" cy="81.25" r="6.1"/>
<circle cx="1675" cy="223.1" r="6.1"/>
</g>
<g fill="#8c6bb1">
<circle cx="1501.9" cy="99.4" r="6.1"/>
<circle cx="1582.9" cy="239" r="6.1"/>
<circle cx="1580" cy="158.75" r="6.1"/>
<circle cx="1595" cy="255.6" r="6.1"/>
<circle cx="1606.9" cy="267.5" r="6.1"/>
<circle cx="1596.25" cy="331.9" r="6.1"/>
<circle cx="1611.25" cy="168.75" r="6.1"/>
<circle cx="1579.4" cy="189.75" r="6.1"/>
</g>
<g fill="#984ea3">
<circle cx="1523" cy="52.5" r="6.1"/>
<circle cx="1513.1" cy="61.25" r="6.1"/>
<circle cx="1574.4" cy="60.6" r="6.1"/>
<circle cx="1600" cy="98.4" r="6.1"/>
<circle cx="1482.5" cy="110.6" r="6.1"/>
<circle cx="1579" cy="278.1" r="6.1"/>
<circle cx="1705.6" cy="326.25" r="6.1"/>
<circle cx="1680" cy="385.6" r="6.1"/>
</g>
<g fill="#c7e9c0">
<circle cx="1696.5" cy="462.75" r="6.1"/>
<circle cx="1690.6" cy="403.1" r="6.1"/>
</g>
<g fill="#a1d99b">
<circle cx="1600.6" cy="231.9" r="6.1"/>
<circle cx="1626.9" cy="250.6" r="6.1"/>
<circle cx="1699.4" cy="351.9" r="6.1"/>
<circle cx="1682.5" cy="467.5" r="6.1"/>
<circle cx="1667.5" cy="433.75" r="6.1"/>
</g>
<g fill="#74c476">
<circle cx="1690" cy="299.4" r="6.1"/>
<circle cx="1699.4" cy="364.4" r="6.1"/>
<circle cx="1671.9" cy="468.75" r="6.1"/>
<circle cx="1640" cy="330" r="6.1"/>
<circle cx="1655" cy="380" r="6.1"/>
</g>
<g fill="#4daf4a">
<circle cx="1563.75" cy="386.5" r="6.1"/>
<circle cx="1686.25" cy="321.25" r="6.1"/>
<circle cx="1660.6" cy="415.6" r="6.1"/>
<circle cx="1650.25" cy="470.6" r="6.1"/>
<circle cx="1648" cy="395" r="6.1"/>
<circle cx="1664" cy="410" r="6.1"/>
</g>
<g fill="#fdae6b">
<circle cx="1493.4" cy="25.4" r="6.1"/>
<circle cx="1571.5" cy="52.9" r="6.1"/>
<circle cx="1604.1" cy="84.1" r="6.1"/>
<circle cx="1611.25" cy="90.6" r="6.1"/>
<circle cx="1624.75" cy="115.6" r="6.1"/>
<circle cx="1651" cy="132.5" r="6.1"/>
<circle cx="1590" cy="96.25" r="6.1"/>
<circle cx="1560.6" cy="107.5" r="6.1"/>
<circle cx="1532.5" cy="113.75" r="6.1"/>
<circle cx="1565" cy="65" r="6.1"/>
<circle cx="1561.25" cy="150" r="6.1"/>
</g>
<g fill="#ff7f00">
<circle cx="1555.6" cy="47.1" r="6.1"/>
<circle cx="1538.4" cy="53.5" r="6.1"/>
<circle cx="1511.25" cy="63.75" r="6.1"/>
<circle cx="1571.9" cy="75" r="6.1"/>
<circle cx="1569" cy="85" r="6.1"/>
<circle cx="1590" cy="161.25" r="6.1"/>
</g>
<g fill="#fcc5c0">
<circle cx="1389.6" cy="136.5" r="6.1"/>
<circle cx="1466" cy="82" r="6.1"/>
<circle cx="1495" cy="85" r="6.1"/>
<circle cx="1550.5" cy="82.5" r="6.1"/>
<circle cx="1593.5" cy="144" r="6.1"/>
<circle cx="1515.3" cy="171" r="6.1"/>
</g>
<g fill="#fa9fb5">
<circle cx="1608.75" cy="253.75" r="6.1"/>
<circle cx="1647.5" cy="275" r="6.1"/>
<circle cx="1672.5" cy="371" r="6.1"/>
<circle cx="1626" cy="332" r="6.1"/>
<circle cx="1640" cy="300" r="6.1"/>
<circle cx="1630" cy="290" r="6.1"/>
</g>
<g fill="#f781bf">
<circle cx="1654.4" cy="234.4" r="6.1"/>
<circle cx="1679.6" cy="239.4" r="6.1"/>
<circle cx="1682.5" cy="273.75" r="6.1"/>
<circle cx="1673.1" cy="407.5" r="6.1"/>
<circle cx="1633.75" cy="421.9" r="6.1"/>
<circle cx="1660" cy="246.9" r="6.1"/>
<circle cx="1672.5" cy="257.5" r="6.1"/>
</g>
<g fill="#c44fa0">
<circle cx="1549.4" cy="461.25" r="6.1"/>
<circle cx="1573.75" cy="470.6" r="6.1"/>
<circle cx="1577.5" cy="468.75" r="6.1"/>
<circle cx="1608.1" cy="465.6" r="6.1"/>
</g>
<path d="M1128.1 242.25L1196.9 235.4L1236 247.5L1287.5 265.25L1152 281.5L1131.25 250Z" fill="#fb6a4a" fill-opacity="0.4" stroke="#fb6a4a" stroke-opacity="0.5" stroke-width="2.2" stroke-linejoin="round"/>
<path d="M1113.75 289L1115.6 281.9L1141.25 255L1249 394.4L1174.4 366L1155.6 348.1L1136.6 328.1Z" fill="#e31a1c" fill-opacity="0.4" stroke="#e31a1c" stroke-opacity="0.5" stroke-width="2.2" stroke-linejoin="round"/>
<path d="M1106.25 271.25L1139.4 275L1176.25 337.75L1181.25 366.25L1114.4 327.25Z" fill="#9ecae1" fill-opacity="0.4" stroke="#9ecae1" stroke-opacity="0.5" stroke-width="2.2" stroke-linejoin="round"/>
<path d="M1130.6 303.75L1146.25 301.25L1336 404.1L1208.1 376.5L1157.5 340.6L1135 318.75Z" fill="#6baed6" fill-opacity="0.4" stroke="#6baed6" stroke-opacity="0.5" stroke-width="2.2" stroke-linejoin="round"/>
<path d="M1167.5 222.9L1204 225.6L1186 224.3Z" fill="#2171b5" fill-opacity="0.4" stroke="#2171b5" stroke-opacity="0.5" stroke-width="2.2" stroke-linejoin="round"/>
<path d="M1271.25 258.5L1294.6 221.9L1446 420L1434.75 418.75L1405.6 411.9L1300.25 315Z" fill="#a85a2a" fill-opacity="0.4" stroke="#a85a2a" stroke-opacity="0.5" stroke-width="2.2" stroke-linejoin="round"/>
<path d="M1366.6 132.5L1493.1 49.75L1573.5 246.9Z" fill="#f0e442" fill-opacity="0.4" stroke="#f0e442" stroke-opacity="0.5" stroke-width="2.2" stroke-linejoin="round"/>
<path d="M1457.25 53.75L1675 223.1L1678 265L1600 300L1461.25 81.25Z" fill="#bcbddc" fill-opacity="0.4" stroke="#bcbddc" stroke-opacity="0.5" stroke-width="2.2" stroke-linejoin="round"/>
<path d="M1486 108L1511.5 65L1572 64L1606 150L1655 292L1596.25 331.9Z" fill="#8c6bb1" fill-opacity="0.4" stroke="#8c6bb1" stroke-opacity="0.5" stroke-width="2.2" stroke-linejoin="round"/>
<path d="M1482.5 110.6L1513.1 61.25L1523 52.5L1574.4 60.6L1600 98.4L1705.6 326.25L1680 385.6L1579 278.1Z" fill="#984ea3" fill-opacity="0.4" stroke="#984ea3" stroke-opacity="0.5" stroke-width="2.2" stroke-linejoin="round"/>
<path d="M1593.8 128.8L1700 352L1696.5 462.75L1676 456L1598 180Z" fill="#c7e9c0" fill-opacity="0.4" stroke="#c7e9c0" stroke-opacity="0.5" stroke-width="2.2" stroke-linejoin="round"/>
<path d="M1596 150L1699.4 351.9L1682.5 467.5L1667.5 433.75L1600.6 231.9Z" fill="#a1d99b" fill-opacity="0.4" stroke="#a1d99b" stroke-opacity="0.5" stroke-width="2.2" stroke-linejoin="round"/>
<path d="M1580 190L1610 171.25L1690 299.4L1699.4 364.4L1671.9 468.75Z" fill="#74c476" fill-opacity="0.4" stroke="#74c476" stroke-opacity="0.5" stroke-width="2.2" stroke-linejoin="round"/>
<path d="M1563.75 386.5L1642.5 321.25L1686.25 321.25L1650.25 470.6Z" fill="#4daf4a" fill-opacity="0.4" stroke="#4daf4a" stroke-opacity="0.5" stroke-width="2.2" stroke-linejoin="round"/>
<path d="M1493.4 25.4L1571.5 52.9L1611.25 90.6L1651 132.5L1561.25 150L1532.5 113.75Z" fill="#fdae6b" fill-opacity="0.4" stroke="#fdae6b" stroke-opacity="0.5" stroke-width="2.2" stroke-linejoin="round"/>
<path d="M1511.25 63.75L1538.4 53.5L1555.6 47.1L1571.9 75L1590 161.25Z" fill="#ff7f00" fill-opacity="0.4" stroke="#ff7f00" stroke-opacity="0.5" stroke-width="2.2" stroke-linejoin="round"/>
<path d="M1389.6 136.5L1466 82L1550.5 82.5L1593.5 144L1515.3 171Z" fill="#fcc5c0" fill-opacity="0.4" stroke="#fcc5c0" stroke-opacity="0.5" stroke-width="2.2" stroke-linejoin="round"/>
<path d="M1608.75 253.75L1647.5 275L1672.5 371L1626 332Z" fill="#fa9fb5" fill-opacity="0.4" stroke="#fa9fb5" stroke-opacity="0.5" stroke-width="2.2" stroke-linejoin="round"/>
<path d="M1633.75 421.9L1654.4 234.4L1679.6 239.4L1682.5 273.75L1673.1 407.5Z" fill="#f781bf" fill-opacity="0.4" stroke="#f781bf" stroke-opacity="0.5" stroke-width="2.2" stroke-linejoin="round"/>
<path d="M1549.4 461.25L1608.1 465.6L1573.75 470.6Z" fill="#c44fa0" fill-opacity="0.4" stroke="#c44fa0" stroke-opacity="0.5" stroke-width="2.2" stroke-linejoin="round"/>
<path d="M1488.5 10.2L1488.5 510.3" stroke="#969696" stroke-width="7.2" stroke-dasharray="7.2 21.8" fill="none"/>
<path d="M1091.4 260.3L1727 260.3" stroke="#969696" stroke-width="7.2" stroke-dasharray="7.2 21.8" fill="none"/>
</g>
<text x="1119.3" y="452.7" font-size="25" font-weight="bold">Bacteria</text>
<text x="1119.3" y="488.9" font-size="25" word-spacing="0.65">PERMANOVA: <tspan font-style="italic">R</tspan><tspan font-size="17" dy="-9.5">2</tspan><tspan dy="9.5"> = 0.53, </tspan><tspan font-style="italic">P</tspan> = 0.001</text>
<rect x="1093.3" y="11.4" width="632" height="497.6" fill="none" stroke="#000" stroke-width="3.0"/>
<path d="M1079.5 10.2H1091.9" stroke="#000" stroke-width="3"/>
<text x="1069.6" y="19.3" font-size="25" text-anchor="end">0.40</text>
<path d="M1079.5 135.2H1091.9" stroke="#000" stroke-width="3"/>
<text x="1069.6" y="144.3" font-size="25" text-anchor="end">0.20</text>
<path d="M1079.5 260.2H1091.9" stroke="#000" stroke-width="3"/>
<text x="1069.6" y="269.3" font-size="25" text-anchor="end">0.00</text>
<path d="M1079.5 385.2H1091.9" stroke="#000" stroke-width="3"/>
<text x="1069.6" y="394.3" font-size="25" text-anchor="end">−0.20</text>
<path d="M1079.5 510.3H1091.9" stroke="#000" stroke-width="3"/>
<text x="1069.6" y="519.4" font-size="25" text-anchor="end">−0.40</text>
<path d="M1091.4 510.4V522.5" stroke="#000" stroke-width="3"/>
<text x="1091.4" y="550.2" font-size="25" text-anchor="middle">−0.50</text>
<path d="M1289.8 510.4V522.5" stroke="#000" stroke-width="3"/>
<text x="1289.8" y="550.2" font-size="25" text-anchor="middle">−0.25</text>
<path d="M1488.4 510.4V522.5" stroke="#000" stroke-width="3"/>
<text x="1488.4" y="550.2" font-size="25" text-anchor="middle">0.00</text>
<path d="M1687.2 510.4V522.5" stroke="#000" stroke-width="3"/>
<text x="1687.2" y="550.2" font-size="25" text-anchor="middle">0.25</text>
<text x="1409.4" y="595.2" font-size="30" text-anchor="middle">PCoA 1 (19.58%)</text>
<text transform="translate(986.6 256.9) rotate(-90)" font-size="30" text-anchor="middle" textLength="235.6">PCoA 2 (11.44%)</text>
<text x="960" y="27" font-size="33" font-weight="bold">(b)</text>
<clipPath id="cd"><rect x="1093.3" y="645.4" width="632" height="497.5"/></clipPath>
<g clip-path="url(#cd)">
<g fill="#fb6a4a">
<circle cx="1238.75" cy="748.3" r="6.1"/>
<circle cx="1256.7" cy="750.6" r="6.1"/>
<circle cx="1302.8" cy="755.3" r="6.1"/>
<circle cx="1313.75" cy="766.25" r="6.1"/>
<circle cx="1330.6" cy="766.25" r="6.1"/>
<circle cx="1345.8" cy="774.8" r="6.1"/>
<circle cx="1364.5" cy="783.4" r="6.1"/>
</g>
<g fill="#e31a1c">
<circle cx="1133" cy="701.4" r="6.1"/>
<circle cx="1154.1" cy="708.1" r="6.1"/>
<circle cx="1158.3" cy="717" r="6.1"/>
<circle cx="1264.5" cy="750.6" r="6.1"/>
</g>
<g fill="#9ecae1">
<circle cx="1139.5" cy="705.3" r="6.1"/>
<circle cx="1144.2" cy="717" r="6.1"/>
<circle cx="1162.2" cy="712.3" r="6.1"/>
<circle cx="1166.1" cy="713.9" r="6.1"/>
<circle cx="1179.4" cy="717" r="6.1"/>
<circle cx="1193" cy="718.1" r="6.1"/>
<circle cx="1242.2" cy="738.9" r="6.1"/>
</g>
<g fill="#6baed6">
<circle cx="1166.9" cy="729.8" r="6.1"/>
<circle cx="1173.1" cy="735" r="6.1"/>
<circle cx="1182.5" cy="735.8" r="6.1"/>
<circle cx="1188.75" cy="736.6" r="6.1"/>
<circle cx="1190.3" cy="731.1" r="6.1"/>
<circle cx="1197.3" cy="745.9" r="6.1"/>
<circle cx="1244.5" cy="751.9" r="6.1"/>
</g>
<g fill="#2171b5">
<circle cx="1262.2" cy="749.4" r="6.1"/>
<circle cx="1288.75" cy="753.75" r="6.1"/>
<circle cx="1293.4" cy="761.6" r="6.1"/>
</g>
<g fill="#a85a2a">
<circle cx="1273.1" cy="770.2" r="6.1"/>
<circle cx="1285.9" cy="768.6" r="6.1"/>
<circle cx="1298.1" cy="767.8" r="6.1"/>
<circle cx="1303.6" cy="775.6" r="6.1"/>
<circle cx="1311.4" cy="775.6" r="6.1"/>
<circle cx="1323.1" cy="778" r="6.1"/>
<circle cx="1327" cy="774.1" r="6.1"/>
<circle cx="1312.2" cy="787.8" r="6.1"/>
<circle cx="1341.1" cy="784.2" r="6.1"/>
</g>
<g fill="#f0e442">
<circle cx="1460" cy="789" r="6.1"/>
<circle cx="1500" cy="772" r="6.1"/>
<circle cx="1580" cy="727" r="6.1"/>
</g>
<g fill="#bcbddc">
<circle cx="1455" cy="782" r="6.1"/>
<circle cx="1470" cy="785" r="6.1"/>
<circle cx="1500" cy="775" r="6.1"/>
<circle cx="1540" cy="760" r="6.1"/>
</g>
<g fill="#8c6bb1">
<circle cx="1441.4" cy="786.25" r="6.1"/>
<circle cx="1447.3" cy="795.2" r="6.1"/>
<circle cx="1463.3" cy="787.8" r="6.1"/>
<circle cx="1503.9" cy="794.4" r="6.1"/>
<circle cx="1475.8" cy="806.9" r="6.1"/>
<circle cx="1571.9" cy="747.2" r="6.1"/>
<circle cx="1593" cy="730" r="6.1"/>
</g>
<g fill="#984ea3">
<circle cx="1453.1" cy="814.8" r="6.1"/>
<circle cx="1470.3" cy="797.5" r="6.1"/>
<circle cx="1507" cy="772" r="6.1"/>
<circle cx="1554.7" cy="755" r="6.1"/>
<circle cx="1560" cy="748" r="6.1"/>
</g>
<g fill="#c7e9c0">
<circle cx="1610.2" cy="706.6" r="6.1"/>
<circle cx="1611.7" cy="712" r="6.1"/>
<circle cx="1582.8" cy="722.2" r="6.1"/>
<circle cx="1530" cy="760" r="6.1"/>
<circle cx="1500" cy="778" r="6.1"/>
<circle cx="1487.5" cy="787.8" r="6.1"/>
<circle cx="1476" cy="772" r="6.1"/>
</g>
<g fill="#a1d99b">
<circle cx="1631.25" cy="703.4" r="6.1"/>
<circle cx="1632" cy="713.3" r="6.1"/>
<circle cx="1531.7" cy="784.4" r="6.1"/>
<circle cx="1529.7" cy="772.2" r="6.1"/>
<circle cx="1490" cy="786" r="6.1"/>
<circle cx="1560" cy="740" r="6.1"/>
<circle cx="1469" cy="771" r="6.1"/>
</g>
<g fill="#74c476">
<circle cx="1576.6" cy="723.75" r="6.1"/>
<circle cx="1557" cy="733.9" r="6.1"/>
<circle cx="1520" cy="755" r="6.1"/>
<circle cx="1505" cy="765" r="6.1"/>
<circle cx="1585" cy="728" r="6.1"/>
</g>
<g fill="#4daf4a">
<circle cx="1468.4" cy="766.7" r="6.1"/>
<circle cx="1468" cy="770.6" r="6.1"/>
<circle cx="1489.1" cy="757.3" r="6.1"/>
<circle cx="1492.2" cy="760.5" r="6.1"/>
<circle cx="1515.6" cy="744.8" r="6.1"/>
<circle cx="1523.4" cy="742.5" r="6.1"/>
<circle cx="1528.1" cy="736.25" r="6.1"/>
<circle cx="1534.4" cy="733.1" r="6.1"/>
<circle cx="1562" cy="722.5" r="6.1"/>
</g>
<g fill="#fdae6b">
<circle cx="1403.1" cy="999.1" r="6.1"/>
<circle cx="1381.9" cy="1038.75" r="6.1"/>
<circle cx="1383.1" cy="1046.9" r="6.1"/>
<circle cx="1388.75" cy="1055.6" r="6.1"/>
<circle cx="1390.9" cy="1067.9" r="6.1"/>
<circle cx="1387.5" cy="1096.9" r="6.1"/>
</g>
<g fill="#ff7f00">
<circle cx="1401.25" cy="981.25" r="6.1"/>
<circle cx="1406" cy="1016" r="6.1"/>
<circle cx="1394.6" cy="1035.6" r="6.1"/>
<circle cx="1395.6" cy="1046.25" r="6.1"/>
</g>
<g fill="#fcc5c0">
<circle cx="1549.5" cy="787.5" r="6.1"/>
<circle cx="1490.2" cy="811.25" r="6.1"/>
<circle cx="1512.7" cy="824.4" r="6.1"/>
<circle cx="1375.9" cy="948.9" r="6.1"/>
<circle cx="1385.6" cy="983.1" r="6.1"/>
<circle cx="1375" cy="998.1" r="6.1"/>
<circle cx="1381.9" cy="1003.75" r="6.1"/>
<circle cx="1386.25" cy="1000" r="6.1"/>
</g>
<g fill="#fa9fb5">
<circle cx="1415.8" cy="911.1" r="6.1"/>
<circle cx="1418.9" cy="918.9" r="6.1"/>
<circle cx="1414.2" cy="927.5" r="6.1"/>
<circle cx="1413.4" cy="935.3" r="6.1"/>
<circle cx="1414.2" cy="947" r="6.1"/>
<circle cx="1409.5" cy="975.2" r="6.1"/>
<circle cx="1402" cy="960" r="6.1"/>
</g>
<g fill="#f781bf">
<circle cx="1413.4" cy="835.8" r="6.1"/>
<circle cx="1400.2" cy="929.1" r="6.1"/>
<circle cx="1399.4" cy="949.4" r="6.1"/>
<circle cx="1392.3" cy="964.2" r="6.1"/>
<circle cx="1393.75" cy="984.4" r="6.1"/>
<circle cx="1408.75" cy="976.25" r="6.1"/>
<circle cx="1413" cy="947.5" r="6.1"/>
<circle cx="1400" cy="948.75" r="6.1"/>
</g>
<g fill="#c44fa0">
<circle cx="1427.8" cy="810.8" r="6.1"/>
<circle cx="1420.5" cy="818.1" r="6.1"/>
<circle cx="1417.7" cy="826.7" r="6.1"/>
<circle cx="1419.7" cy="831.4" r="6.1"/>
</g>
<path d="M1238.75 748.3L1302.8 755.3L1330.6 766.25L1364.5 783.4Z" fill="#fb6a4a" fill-opacity="0.4" stroke="#fb6a4a" stroke-opacity="0.5" stroke-width="2.2" stroke-linejoin="round"/>
<path d="M1133 701.4L1154.1 708.1L1264.5 750.6L1158.3 717Z" fill="#e31a1c" fill-opacity="0.4" stroke="#e31a1c" stroke-opacity="0.5" stroke-width="2.2" stroke-linejoin="round"/>
<path d="M1139.5 705.3L1193 718.1L1242.2 738.9L1144.2 717Z" fill="#9ecae1" fill-opacity="0.4" stroke="#9ecae1" stroke-opacity="0.5" stroke-width="2.2" stroke-linejoin="round"/>
<path d="M1166.9 729.8L1190.3 731.1L1244.5 751.9L1197.3 745.9L1173.1 735Z" fill="#6baed6" fill-opacity="0.4" stroke="#6baed6" stroke-opacity="0.5" stroke-width="2.2" stroke-linejoin="round"/>
<path d="M1262.2 749.4L1288.75 753.75L1293.4 761.6Z" fill="#2171b5" fill-opacity="0.4" stroke="#2171b5" stroke-opacity="0.5" stroke-width="2.2" stroke-linejoin="round"/>
<path d="M1273.1 770.2L1285.9 768.6L1298.1 767.8L1327 774.1L1341.1 784.2L1312.2 787.8Z" fill="#a85a2a" fill-opacity="0.4" stroke="#a85a2a" stroke-opacity="0.5" stroke-width="2.2" stroke-linejoin="round"/>
<path d="M1460 789L1580 727L1500 772Z" fill="#f0e442" fill-opacity="0.4" stroke="#f0e442" stroke-opacity="0.5" stroke-width="2.2" stroke-linejoin="round"/>
<path d="M1455 782L1540 760L1500 775L1470 785Z" fill="#bcbddc" fill-opacity="0.4" stroke="#bcbddc" stroke-opacity="0.5" stroke-width="2.2" stroke-linejoin="round"/>
<path d="M1441.4 786.25L1593 730L1571.9 747.2L1503.9 794.4L1475.8 806.9L1447.3 795.2Z" fill="#8c6bb1" fill-opacity="0.4" stroke="#8c6bb1" stroke-opacity="0.5" stroke-width="2.2" stroke-linejoin="round"/>
<path d="M1453.1 814.8L1470.3 797.5L1507 772L1560 748L1554.7 755Z" fill="#984ea3" fill-opacity="0.4" stroke="#984ea3" stroke-opacity="0.5" stroke-width="2.2" stroke-linejoin="round"/>
<path d="M1476 772L1610.2 706.6L1611.7 712L1487.5 787.8Z" fill="#c7e9c0" fill-opacity="0.4" stroke="#c7e9c0" stroke-opacity="0.5" stroke-width="2.2" stroke-linejoin="round"/>
<path d="M1469 771L1631.25 703.4L1632 713.3L1531.7 784.4L1490 786Z" fill="#a1d99b" fill-opacity="0.4" stroke="#a1d99b" stroke-opacity="0.5" stroke-width="2.2" stroke-linejoin="round"/>
<path d="M1505 765L1520 755L1557 733.9L1576.6 723.75L1585 728Z" fill="#74c476" fill-opacity="0.4" stroke="#74c476" stroke-opacity="0.5" stroke-width="2.2" stroke-linejoin="round"/>
<path d="M1468 770.6L1468.4 766.7L1528.1 736.25L1534.4 733.1L1562 722.5L1492.2 760.5Z" fill="#4daf4a" fill-opacity="0.4" stroke="#4daf4a" stroke-opacity="0.5" stroke-width="2.2" stroke-linejoin="round"/>
<path d="M1381.9 1038.75L1403.1 999.1L1387.5 1096.9Z" fill="#fdae6b" fill-opacity="0.4" stroke="#fdae6b" stroke-opacity="0.5" stroke-width="2.2" stroke-linejoin="round"/>
<path d="M1394.6 1035.6L1401.25 981.25L1406 1016L1395.6 1046.25Z" fill="#ff7f00" fill-opacity="0.4" stroke="#ff7f00" stroke-opacity="0.5" stroke-width="2.2" stroke-linejoin="round"/>
<path d="M1375 998.1L1375.9 948.9L1490.2 811.25L1549.5 787.5L1386.25 1000L1381.9 1003.75Z" fill="#fcc5c0" fill-opacity="0.4" stroke="#fcc5c0" stroke-opacity="0.5" stroke-width="2.2" stroke-linejoin="round"/>
<path d="M1402 960L1415.8 911.1L1418.9 918.9L1409.5 975.2Z" fill="#fa9fb5" fill-opacity="0.4" stroke="#fa9fb5" stroke-opacity="0.5" stroke-width="2.2" stroke-linejoin="round"/>
<path d="M1392.3 964.2L1413.4 835.8L1413 947.5L1408.75 976.25L1393.75 984.4Z" fill="#f781bf" fill-opacity="0.4" stroke="#f781bf" stroke-opacity="0.5" stroke-width="2.2" stroke-linejoin="round"/>
<path d="M1417.7 826.7L1420.5 818.1L1427.8 810.8L1419.7 831.4Z" fill="#c44fa0" fill-opacity="0.4" stroke="#c44fa0" stroke-opacity="0.5" stroke-width="2.2" stroke-linejoin="round"/>
<path d="M1409.2 644.2L1409.2 1144.3" stroke="#969696" stroke-width="7.2" stroke-dasharray="7.2 21.8" fill="none"/>
<path d="M1091.4 810.8L1727 810.8" stroke="#969696" stroke-width="7.2" stroke-dasharray="7.2 21.8" fill="none"/>
</g>
<text x="1119.3" y="1086.7" font-size="25" font-weight="bold">Fungi</text>
<text x="1119.3" y="1122.9" font-size="25" word-spacing="0.65">PERMANOVA: <tspan font-style="italic">R</tspan><tspan font-size="17" dy="-9.5">2</tspan><tspan dy="9.5"> = 0.35, </tspan><tspan font-style="italic">P</tspan> = 0.001</text>
<rect x="1093.3" y="645.4" width="632" height="497.5" fill="none" stroke="#000" stroke-width="3.0"/>
<path d="M1079.5 644H1091.9" stroke="#000" stroke-width="3"/>
<text x="1069.6" y="653.1" font-size="25" text-anchor="end">0.25</text>
<path d="M1079.5 810.75H1091.9" stroke="#000" stroke-width="3"/>
<text x="1069.6" y="819.85" font-size="25" text-anchor="end">0.00</text>
<path d="M1079.5 977.5H1091.9" stroke="#000" stroke-width="3"/>
<text x="1069.6" y="986.6" font-size="25" text-anchor="end">−0.25</text>
<path d="M1079.5 1144.3H1091.9" stroke="#000" stroke-width="3"/>
<text x="1069.6" y="1153.4" font-size="25" text-anchor="end">−0.50</text>
<path d="M1091.4 1144.3V1156.4" stroke="#000" stroke-width="3"/>
<text x="1091.4" y="1184.2" font-size="25" text-anchor="middle">−0.40</text>
<path d="M1250.4 1144.3V1156.4" stroke="#000" stroke-width="3"/>
<text x="1250.4" y="1184.2" font-size="25" text-anchor="middle">−0.20</text>
<path d="M1409.4 1144.3V1156.4" stroke="#000" stroke-width="3"/>
<text x="1409.4" y="1184.2" font-size="25" text-anchor="middle">0.00</text>
<path d="M1568.4 1144.3V1156.4" stroke="#000" stroke-width="3"/>
<text x="1568.4" y="1184.2" font-size="25" text-anchor="middle">0.20</text>
<path d="M1727.4 1144.3V1156.4" stroke="#000" stroke-width="3"/>
<text x="1727.4" y="1184.2" font-size="25" text-anchor="middle">0.40</text>
<text x="1409.4" y="1229" font-size="30" text-anchor="middle">PCoA 1 (5.90%)</text>
<text transform="translate(986.6 893.4) rotate(-90)" font-size="30" text-anchor="middle">PCoA 2 (5.33%)</text>
<text x="960" y="657.6" font-size="33" font-weight="bold">(d)</text>
<g font-size="21.2">
<text x="1744.6" y="84.1" font-weight="bold" style="fill:#e31a1c">Desert steppe</text>
<circle cx="1753" cy="116.2" r="7.3" fill="#fb6a4a" stroke="#111" stroke-width="1.3"/>
<text x="1769.6" y="121.6"><tspan font-style="italic">S. breviflora</tspan>_1351 m</text>
<circle cx="1753" cy="153.7" r="7.3" fill="#e31a1c" stroke="#111" stroke-width="1.3"/>
<text x="1769.6" y="159.1"><tspan font-style="italic">C. stenophylla</tspan>_1458 m</text>
<text x="1744.6" y="202.9" font-weight="bold" style="fill:#2171b5">Shallow mountain shrubland</text>
<circle cx="1753" cy="231.1" r="7.3" fill="#9ecae1" stroke="#111" stroke-width="1.3"/>
<text x="1769.6" y="236.5"><tspan font-style="italic">E. rhytidosperma</tspan>_1464 m</text>
<circle cx="1753" cy="268.7" r="7.3" fill="#6baed6" stroke="#111" stroke-width="1.3"/>
<text x="1769.6" y="274.1"><tspan font-style="italic">C. tragacanthoides</tspan>_1785 m</text>
<circle cx="1753" cy="306.2" r="7.3" fill="#2171b5" stroke="#111" stroke-width="1.3"/>
<text x="1769.6" y="311.6"><tspan font-style="italic">P. mongolica</tspan>_1814 m</text>
<text x="1744.6" y="355.6" font-weight="bold" style="fill:#b15928">Broad-leaved forest</text>
<circle cx="1753" cy="383.8" r="7.3" fill="#a85a2a" stroke="#111" stroke-width="1.3"/>
<text x="1769.6" y="389.2"><tspan font-style="italic">U. glaucescens</tspan>_1562 m</text>
<text x="1744.6" y="433.6" font-weight="bold" style="fill:#d9c81e">Temperate coniferous forest</text>
<circle cx="1753" cy="465.2" r="7.3" fill="#f0e442" stroke="#111" stroke-width="1.3"/>
<text x="1769.6" y="470.6"><tspan font-style="italic">P. tabuliformis</tspan>_2096 m</text>
<text x="1744.6" y="514.8" font-weight="bold" style="fill:#984ea3">Mixed broadleaf-conifer forest</text>
<circle cx="1753" cy="542.7" r="7.3" fill="#bcbddc" stroke="#111" stroke-width="1.3"/>
<text x="1769.6" y="548.1"><tspan font-style="italic">P. davidiana</tspan>_2112 m</text>
<circle cx="1753" cy="580.5" r="7.3" fill="#8c6bb1" stroke="#111" stroke-width="1.3"/>
<text x="1769.6" y="585.9"><tspan font-style="italic">J. rigida</tspan>_2112 m</text>
<circle cx="1753" cy="617.8" r="7.3" fill="#984ea3" stroke="#111" stroke-width="1.3"/>
<text x="1769.6" y="623.2"><tspan font-style="italic">P. crassifolia</tspan>_2112 m</text>
<text x="1744.6" y="666.7" font-weight="bold" style="fill:#4daf4a">Dark coniferous forest</text>
<circle cx="1753" cy="694.9" r="7.3" fill="#c7e9c0" stroke="#111" stroke-width="1.3"/>
<text x="1769.6" y="700.3"><tspan font-style="italic">P. crassifolia</tspan>_2431 m</text>
<circle cx="1753" cy="732.6" r="7.3" fill="#a1d99b" stroke="#111" stroke-width="1.3"/>
<text x="1769.6" y="738"><tspan font-style="italic">P. crassifolia</tspan>_2441 m</text>
<circle cx="1753" cy="770.1" r="7.3" fill="#74c476" stroke="#111" stroke-width="1.3"/>
<text x="1769.6" y="775.5"><tspan font-style="italic">P. crassifolia</tspan>_2677 m</text>
<circle cx="1753" cy="807.5" r="7.3" fill="#4daf4a" stroke="#111" stroke-width="1.3"/>
<text x="1769.6" y="812.9"><tspan font-style="italic">P. crassifolia</tspan>_2939 m</text>
<text x="1744.6" y="856.6" font-weight="bold" style="fill:#ff7f00">Subalpine shrub</text>
<circle cx="1753" cy="889" r="7.3" fill="#fdae6b" stroke="#111" stroke-width="1.3"/>
<text x="1769.6" y="894.4"><tspan font-style="italic">A. cristatum</tspan>_2596 m</text>
<circle cx="1753" cy="926.2" r="7.3" fill="#ff7f00" stroke="#111" stroke-width="1.3"/>
<text x="1769.6" y="931.6"><tspan font-style="italic">D. glabra</tspan>_2596 m</text>
<text x="1744.6" y="975.6" font-weight="bold" style="fill:#c44fa0">Alpine meadow</text>
<circle cx="1753" cy="1007.3" r="7.3" fill="#fcc5c0" stroke="#111" stroke-width="1.3"/>
<text x="1769.6" y="1012.7"><tspan font-style="italic">C. coninux</tspan>_2896 m</text>
<circle cx="1753" cy="1045" r="7.3" fill="#fa9fb5" stroke="#111" stroke-width="1.3"/>
<text x="1769.6" y="1050.4"><tspan font-style="italic">D. parvifolia</tspan>_2919 m</text>
<circle cx="1753" cy="1082.3" r="7.3" fill="#f781bf" stroke="#111" stroke-width="1.3"/>
<text x="1769.6" y="1087.7"><tspan font-style="italic">C. myosuroides</tspan>_2946 m</text>
<circle cx="1753" cy="1120.4" r="7.3" fill="#c44fa0" stroke="#111" stroke-width="1.3"/>
<text x="1769.6" y="1125.8"><tspan font-style="italic">C. jubata</tspan>_3537 m</text>
</g>
</svg></body></html>
